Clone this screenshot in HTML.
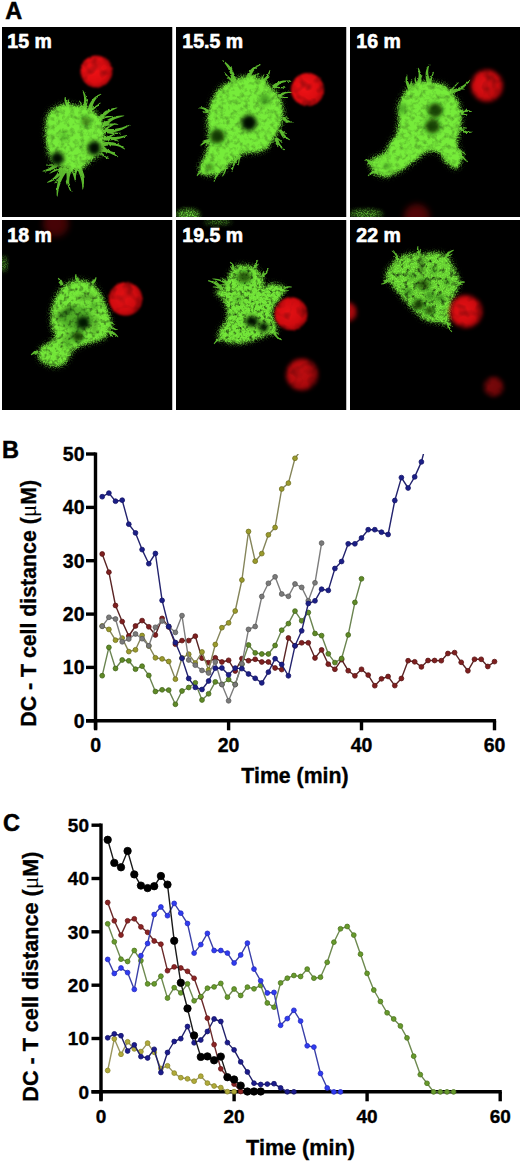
<!DOCTYPE html>
<html><head><meta charset="utf-8"><style>
html,body{margin:0;padding:0;background:#fff;}
body{width:520px;height:1162px;overflow:hidden;}
svg{display:block;font-family:"Liberation Sans", sans-serif;}
</style></head><body>
<svg width="520" height="1162" viewBox="0 0 520 1162">
<rect width="520" height="1162" fill="#fff"/>
<defs><filter id="gf0" x="-30%" y="-30%" width="160%" height="160%" color-interpolation-filters="sRGB">
 <feTurbulence type="fractalNoise" baseFrequency="0.45" numOctaves="2" seed="4" result="t"/>
 <feDisplacementMap in="SourceGraphic" in2="t" scale="5" xChannelSelector="R" yChannelSelector="G" result="d"/>
 <feGaussianBlur in="d" stdDeviation="0.9" result="b"/>
 <feTurbulence type="fractalNoise" baseFrequency="0.2" numOctaves="3" seed="9" result="n0"/>
 <feGaussianBlur in="n0" stdDeviation="0.7" result="n"/>
 <feColorMatrix in="n" type="matrix" values="0.65 0 0 0 0.63  0.65 0 0 0 0.63  0.65 0 0 0 0.63  0 0 0 0 1" result="ng"/>
 <feComposite in="b" in2="ng" operator="arithmetic" k1="1" k2="0" k3="0" k4="0"/>
</filter>
<filter id="gf1" x="-30%" y="-30%" width="160%" height="160%" color-interpolation-filters="sRGB">
 <feTurbulence type="fractalNoise" baseFrequency="0.45" numOctaves="2" seed="5" result="t"/>
 <feDisplacementMap in="SourceGraphic" in2="t" scale="5" xChannelSelector="R" yChannelSelector="G" result="d"/>
 <feGaussianBlur in="d" stdDeviation="0.9" result="b"/>
 <feTurbulence type="fractalNoise" baseFrequency="0.2" numOctaves="3" seed="10" result="n0"/>
 <feGaussianBlur in="n0" stdDeviation="0.7" result="n"/>
 <feColorMatrix in="n" type="matrix" values="0.65 0 0 0 0.63  0.65 0 0 0 0.63  0.65 0 0 0 0.63  0 0 0 0 1" result="ng"/>
 <feComposite in="b" in2="ng" operator="arithmetic" k1="1" k2="0" k3="0" k4="0"/>
</filter>
<filter id="gf2" x="-30%" y="-30%" width="160%" height="160%" color-interpolation-filters="sRGB">
 <feTurbulence type="fractalNoise" baseFrequency="0.45" numOctaves="2" seed="6" result="t"/>
 <feDisplacementMap in="SourceGraphic" in2="t" scale="5" xChannelSelector="R" yChannelSelector="G" result="d"/>
 <feGaussianBlur in="d" stdDeviation="0.9" result="b"/>
 <feTurbulence type="fractalNoise" baseFrequency="0.2" numOctaves="3" seed="11" result="n0"/>
 <feGaussianBlur in="n0" stdDeviation="0.7" result="n"/>
 <feColorMatrix in="n" type="matrix" values="0.65 0 0 0 0.63  0.65 0 0 0 0.63  0.65 0 0 0 0.63  0 0 0 0 1" result="ng"/>
 <feComposite in="b" in2="ng" operator="arithmetic" k1="1" k2="0" k3="0" k4="0"/>
</filter>
<filter id="gf3" x="-30%" y="-30%" width="160%" height="160%" color-interpolation-filters="sRGB">
 <feTurbulence type="fractalNoise" baseFrequency="0.45" numOctaves="2" seed="7" result="t"/>
 <feDisplacementMap in="SourceGraphic" in2="t" scale="7" xChannelSelector="R" yChannelSelector="G" result="d"/>
 <feGaussianBlur in="d" stdDeviation="0.9" result="b"/>
 <feTurbulence type="fractalNoise" baseFrequency="0.25" numOctaves="3" seed="12" result="n0"/>
 <feGaussianBlur in="n0" stdDeviation="0.5" result="n"/>
 <feColorMatrix in="n" type="matrix" values="1.4 0 0 0 0.26  1.4 0 0 0 0.26  1.4 0 0 0 0.26  0 0 0 0 1" result="ng"/>
 <feComposite in="b" in2="ng" operator="arithmetic" k1="1" k2="0" k3="0" k4="0"/>
</filter>
<filter id="gf4" x="-30%" y="-30%" width="160%" height="160%" color-interpolation-filters="sRGB">
 <feTurbulence type="fractalNoise" baseFrequency="0.5" numOctaves="2" seed="8" result="t"/>
 <feDisplacementMap in="SourceGraphic" in2="t" scale="8" xChannelSelector="R" yChannelSelector="G" result="d"/>
 <feGaussianBlur in="d" stdDeviation="0.8" result="b"/>
 <feTurbulence type="fractalNoise" baseFrequency="0.3" numOctaves="3" seed="13" result="n0"/>
 <feGaussianBlur in="n0" stdDeviation="0.4" result="n"/>
 <feColorMatrix in="n" type="matrix" values="2.0 0 0 0 -0.02  2.0 0 0 0 -0.02  2.0 0 0 0 -0.02  0 0 0 0 1" result="ng"/>
 <feComposite in="b" in2="ng" operator="arithmetic" k1="1" k2="0" k3="0" k4="0"/>
</filter>
<filter id="gf5" x="-30%" y="-30%" width="160%" height="160%" color-interpolation-filters="sRGB">
 <feTurbulence type="fractalNoise" baseFrequency="0.35" numOctaves="2" seed="9" result="t"/>
 <feDisplacementMap in="SourceGraphic" in2="t" scale="10" xChannelSelector="R" yChannelSelector="G" result="d"/>
 <feGaussianBlur in="d" stdDeviation="0.8" result="b"/>
 <feTurbulence type="fractalNoise" baseFrequency="0.22" numOctaves="3" seed="14" result="n0"/>
 <feGaussianBlur in="n0" stdDeviation="0.5" result="n"/>
 <feColorMatrix in="n" type="matrix" values="2.4 0 0 0 -0.18  2.4 0 0 0 -0.18  2.4 0 0 0 -0.18  0 0 0 0 1" result="ng"/>
 <feComposite in="b" in2="ng" operator="arithmetic" k1="1" k2="0" k3="0" k4="0"/>
</filter>
<filter id="hf" x="-30%" y="-30%" width="160%" height="160%" color-interpolation-filters="sRGB">
 <feTurbulence type="fractalNoise" baseFrequency="0.6" numOctaves="2" seed="7" result="t"/>
 <feDisplacementMap in="SourceGraphic" in2="t" scale="8" xChannelSelector="R" yChannelSelector="G" result="d"/>
 <feGaussianBlur in="d" stdDeviation="1.0"/>
</filter>
<filter id="sf" x="-30%" y="-30%" width="160%" height="160%" color-interpolation-filters="sRGB">
 <feTurbulence type="fractalNoise" baseFrequency="0.5" numOctaves="2" seed="12" result="t"/>
 <feDisplacementMap in="SourceGraphic" in2="t" scale="2.5" xChannelSelector="R" yChannelSelector="G" result="d"/>
 <feGaussianBlur in="d" stdDeviation="0.6"/>
</filter>
<filter id="spk" x="-30%" y="-30%" width="160%" height="160%" color-interpolation-filters="sRGB">
 <feGaussianBlur in="SourceGraphic" stdDeviation="2.5" result="b"/>
 <feTurbulence type="fractalNoise" baseFrequency="0.8" numOctaves="2" seed="3" result="n"/>
 <feColorMatrix in="n" type="matrix" values="0 0 0 0 0.47  0 0 0 0 0.92  0 0 0 0 0.26  0 0 0 5 -2.2" result="nz"/>
 <feComposite in="nz" in2="b" operator="in"/>
</filter>
<filter id="hb" x="-50%" y="-50%" width="200%" height="200%"><feGaussianBlur stdDeviation="1.9"/></filter>
<filter id="rb1" x="-30%" y="-30%" width="160%" height="160%" color-interpolation-filters="sRGB">
 <feTurbulence type="fractalNoise" baseFrequency="0.6" numOctaves="2" seed="21" result="t"/>
 <feDisplacementMap in="SourceGraphic" in2="t" scale="2.5" xChannelSelector="R" yChannelSelector="G" result="d"/>
 <feGaussianBlur in="d" stdDeviation="0.9" result="b"/>
 <feTurbulence type="fractalNoise" baseFrequency="0.12" numOctaves="2" seed="31" result="n0"/>
 <feGaussianBlur in="n0" stdDeviation="1" result="n"/>
 <feColorMatrix in="n" type="matrix" values="0.9 0 0 0 0.5  0.9 0 0 0 0.5  0.9 0 0 0 0.5  0 0 0 0 1" result="ng"/>
 <feComposite in="b" in2="ng" operator="arithmetic" k1="1" k2="0" k3="0" k4="0"/>
</filter>
<filter id="rb2" x="-30%" y="-30%" width="160%" height="160%" color-interpolation-filters="sRGB">
 <feGaussianBlur in="SourceGraphic" stdDeviation="2.0" result="b"/>
 <feTurbulence type="fractalNoise" baseFrequency="0.12" numOctaves="2" seed="33" result="n0"/>
 <feGaussianBlur in="n0" stdDeviation="1" result="n"/>
 <feColorMatrix in="n" type="matrix" values="0.9 0 0 0 0.5  0.9 0 0 0 0.5  0.9 0 0 0 0.5  0 0 0 0 1" result="ng"/>
 <feComposite in="b" in2="ng" operator="arithmetic" k1="1" k2="0" k3="0" k4="0"/>
</filter>
<filter id="rb3" x="-50%" y="-50%" width="200%" height="200%"><feGaussianBlur stdDeviation="3"/></filter>
<filter id="eb" x="-50%" y="-50%" width="200%" height="200%"><feGaussianBlur stdDeviation="2"/></filter>
<radialGradient id="rg" cx="0.42" cy="0.45" r="0.58"><stop offset="0" stop-color="#f01216"/><stop offset="0.7" stop-color="#dc0c10"/><stop offset="1" stop-color="#a8060a"/></radialGradient>
</defs>
<clipPath id="pc0"><rect x="2" y="27" width="170.5" height="190"/></clipPath>
<clipPath id="pc1"><rect x="176" y="27" width="170.5" height="190"/></clipPath>
<clipPath id="pc2"><rect x="350" y="27" width="170" height="190"/></clipPath>
<clipPath id="pc3"><rect x="2" y="220" width="170.5" height="190"/></clipPath>
<clipPath id="pc4"><rect x="176" y="220" width="170.5" height="190"/></clipPath>
<clipPath id="pc5"><rect x="350" y="220" width="170" height="190"/></clipPath>
<g clip-path="url(#pc0)">
<rect x="2" y="27" width="170.5" height="190" fill="#000"/>
<g filter="url(#hf)" opacity="0.35"><path d="M48.5 115.8 C50.1 111.6 53 110 56.1 108.2 C59.2 106.4 63.2 105.2 67 105 C70.8 104.9 75.3 106.6 78.9 107.4 C82.5 108.1 85.6 108 88.7 109.5 C91.8 110.9 95.1 113 97.4 115.9 C99.8 118.8 101.8 122.9 102.7 126.9 C103.6 130.8 103.1 135.5 102.6 139.8 C102.1 144.1 101.5 149.5 99.5 152.7 C97.5 155.9 93.6 156.8 90.7 159.2 C87.9 161.5 85.4 165.3 82.2 167 C79 168.6 75 169.4 71.4 169.2 C67.8 169 63.6 167.4 60.5 165.9 C57.4 164.4 54.8 163.3 52.8 160.4 C50.9 157.5 49.8 152.9 48.7 148.4 C47.7 143.9 46.6 138.7 46.6 133.3 C46.5 127.9 46.9 120 48.5 115.8Z" fill="#76ec3a" stroke="#76ec3a" stroke-width="3"/></g>
<g filter="url(#spk)"><path d="M48.5 115.8 C50.1 111.6 53 110 56.1 108.2 C59.2 106.4 63.2 105.2 67 105 C70.8 104.9 75.3 106.6 78.9 107.4 C82.5 108.1 85.6 108 88.7 109.5 C91.8 110.9 95.1 113 97.4 115.9 C99.8 118.8 101.8 122.9 102.7 126.9 C103.6 130.8 103.1 135.5 102.6 139.8 C102.1 144.1 101.5 149.5 99.5 152.7 C97.5 155.9 93.6 156.8 90.7 159.2 C87.9 161.5 85.4 165.3 82.2 167 C79 168.6 75 169.4 71.4 169.2 C67.8 169 63.6 167.4 60.5 165.9 C57.4 164.4 54.8 163.3 52.8 160.4 C50.9 157.5 49.8 152.9 48.7 148.4 C47.7 143.9 46.6 138.7 46.6 133.3 C46.5 127.9 46.9 120 48.5 115.8Z" fill="#76ec3a" stroke="#76ec3a" stroke-width="4"/></g>
<g filter="url(#sf)" opacity="0.85"><path d="M84.7 113 L85.6 110.6 L86.3 108.3 L86.7 105.9 L86.9 103.6 L86.8 101.2 L86.6 99 L86 96.7 L85.3 94.5 L84.3 92.4 L83 90.3 L82.4 90.7 L83.1 92.9 L83.6 95.1 L84 97.2 L84.1 99.2 L84 101.2 L83.7 103.2 L83.3 105.2 L82.6 107.1 L81.8 109.1 L80.7 111Z M83.7 112.7 L84.5 111.4 L85.1 110.1 L85.7 108.7 L86.2 107.4 L86.7 106 L87.1 104.6 L87.4 103.2 L87.6 101.8 L87.8 100.4 L87.8 98.9 L87.1 98.8 L86.8 100.2 L86.4 101.6 L86 102.9 L85.6 104.2 L85.1 105.4 L84.5 106.7 L83.9 107.9 L83.2 109 L82.4 110.2 L81.7 111.3Z M83.8 112 L83.8 110.7 L83.6 109.5 L83.4 108.2 L83.1 107 L82.7 105.8 L82.2 104.7 L81.7 103.6 L81 102.5 L80.3 101.5 L79.5 100.5 L78.9 100.9 L79.5 102 L80.1 103 L80.5 104.1 L80.9 105.2 L81.2 106.3 L81.4 107.4 L81.6 108.5 L81.6 109.6 L81.6 110.8 L81.6 112Z M92.2 110.3 L92.4 108.3 L92.7 106.4 L93.1 104.6 L93.8 102.9 L94.6 101.3 L95.6 99.8 L96.7 98.3 L98.1 96.9 L99.6 95.6 L101.4 94.3 L101 93.7 L99 94.5 L97.1 95.5 L95.3 96.7 L93.7 98.1 L92.3 99.7 L91 101.4 L89.9 103.2 L89 105.3 L88.3 107.4 L87.8 109.7Z M90.5 111.2 L91.7 110.5 L92.8 109.9 L94 109.2 L95.1 108.4 L96.1 107.6 L97.1 106.8 L98.1 105.9 L99 105 L99.9 104 L100.7 103 L100.1 102.5 L99.2 103.3 L98.2 104.1 L97.2 104.9 L96.2 105.6 L95.1 106.2 L94 106.8 L92.9 107.4 L91.8 107.9 L90.7 108.4 L89.5 108.8Z M91.1 110.1 L91.2 109.1 L91.3 108 L91.5 107 L91.7 106 L91.9 105 L92.2 104 L92.5 102.9 L92.8 101.9 L93.2 101 L93.6 99.9 L93 99.6 L92.3 100.5 L91.8 101.5 L91.3 102.5 L90.8 103.5 L90.4 104.5 L90 105.5 L89.6 106.6 L89.3 107.7 L89.1 108.8 L88.9 109.9Z M69.8 104.8 L69 104.2 L68.3 103.5 L67.7 102.9 L67.2 102.1 L66.8 101.4 L66.4 100.5 L66.1 99.7 L65.9 98.7 L65.8 97.7 L65.7 96.6 L65.1 96.4 L64.7 97.6 L64.5 98.7 L64.5 99.9 L64.6 101 L64.8 102.1 L65.1 103.2 L65.6 104.2 L66.2 105.3 L66.9 106.3 L67.8 107.2Z M69.7 105.7 L69.5 105.1 L69.3 104.5 L69.2 103.9 L69.1 103.3 L69 102.7 L69 102.1 L69 101.5 L69 100.8 L69.1 100.2 L69.2 99.5 L68.5 99.3 L68.2 100 L68 100.7 L67.8 101.3 L67.7 102 L67.6 102.7 L67.6 103.4 L67.6 104.1 L67.6 104.8 L67.7 105.6 L67.9 106.3Z M69.5 105.5 L69.1 105.1 L68.7 104.6 L68.4 104.2 L68 103.8 L67.6 103.4 L67.3 103 L66.9 102.6 L66.5 102.2 L66.1 101.8 L65.8 101.4 L65.2 101.8 L65.4 102.3 L65.7 102.8 L66 103.2 L66.3 103.7 L66.6 104.2 L66.9 104.7 L67.2 105.1 L67.5 105.6 L67.8 106.1 L68.1 106.5Z M100.8 121.3 L102 119.5 L103.3 117.8 L104.7 116.2 L106.2 114.7 L107.8 113.4 L109.5 112.1 L111.3 111 L113.2 109.9 L115.2 109 L117.4 108.1 L117.2 107.5 L114.9 107.8 L112.6 108.3 L110.4 109.1 L108.3 109.9 L106.2 111 L104.2 112.2 L102.3 113.6 L100.5 115.1 L98.8 116.8 L97.2 118.7Z M99.6 121.1 L100.8 120.3 L102.1 119.6 L103.3 119 L104.6 118.5 L105.9 118.1 L107.2 117.7 L108.6 117.4 L110 117.2 L111.4 117.1 L112.9 117 L112.9 116.3 L111.4 116.1 L109.9 116 L108.4 116 L106.9 116.1 L105.5 116.4 L104 116.7 L102.6 117.1 L101.2 117.6 L99.7 118.2 L98.4 118.9Z M100 120.5 L100.5 119.5 L101.1 118.4 L101.7 117.4 L102.3 116.4 L103 115.4 L103.7 114.5 L104.4 113.6 L105.2 112.7 L106 111.8 L106.9 110.9 L106.4 110.3 L105.4 111.1 L104.4 111.8 L103.5 112.7 L102.6 113.5 L101.7 114.4 L100.9 115.4 L100.1 116.3 L99.4 117.3 L98.7 118.4 L98 119.5Z M104.6 127.5 L106.2 125.8 L107.8 124.1 L109.5 122.7 L111.3 121.3 L113.2 120.1 L115.2 119.1 L117.3 118.2 L119.5 117.4 L121.8 116.7 L124.2 116.1 L124.2 115.5 L121.6 115.4 L119.1 115.7 L116.7 116.1 L114.3 116.8 L112 117.6 L109.7 118.6 L107.5 119.8 L105.4 121.2 L103.4 122.7 L101.4 124.5Z M103.4 127.2 L104.8 126.6 L106.3 126.1 L107.7 125.7 L109.1 125.4 L110.6 125.1 L112.1 125 L113.6 124.8 L115.1 124.8 L116.6 124.8 L118.2 124.8 L118.3 124.2 L116.7 123.8 L115.1 123.6 L113.6 123.4 L112 123.4 L110.4 123.4 L108.9 123.5 L107.3 123.7 L105.7 124 L104.1 124.4 L102.6 124.8Z M103.5 127 L104.7 126.3 L105.9 125.5 L106.9 124.7 L108 123.8 L108.9 122.9 L109.8 121.9 L110.7 120.8 L111.4 119.7 L112.2 118.6 L112.8 117.4 L112.2 117 L111.4 118.1 L110.5 119.1 L109.7 120 L108.8 120.9 L107.8 121.7 L106.9 122.5 L105.8 123.2 L104.8 123.8 L103.7 124.4 L102.5 125Z M103.9 133.2 L106.7 133.1 L109.5 132.9 L112.2 132.5 L114.9 132 L117.5 131.3 L120.1 130.4 L122.6 129.4 L125 128.2 L127.4 126.9 L129.7 125.3 L129.3 124.7 L126.8 125.7 L124.3 126.6 L121.9 127.4 L119.4 128 L116.9 128.5 L114.4 128.9 L111.8 129.1 L109.3 129.1 L106.7 129 L104.1 128.8Z M103.6 132.2 L105.3 132.7 L107 133.1 L108.8 133.5 L110.5 133.7 L112.2 133.9 L114 134 L115.7 134 L117.5 133.9 L119.2 133.7 L120.9 133.4 L120.9 132.7 L119.1 132.7 L117.4 132.7 L115.8 132.6 L114.1 132.4 L112.4 132.2 L110.8 131.8 L109.2 131.4 L107.6 131 L106 130.4 L104.4 129.8Z M104.8 131.8 L105.8 130.7 L106.8 129.7 L107.8 128.8 L108.9 127.9 L110.1 127.1 L111.3 126.4 L112.5 125.7 L113.8 125.1 L115.1 124.6 L116.5 124 L116.3 123.4 L114.8 123.7 L113.4 124.1 L112 124.5 L110.6 125.1 L109.3 125.8 L108 126.5 L106.7 127.3 L105.5 128.2 L104.3 129.2 L103.2 130.2Z M103.6 140.2 L106.1 140.4 L108.6 140.4 L111.1 140.3 L113.5 140.1 L115.8 139.8 L118.2 139.2 L120.5 138.6 L122.8 137.8 L125 136.9 L127.1 135.7 L126.9 135.1 L124.6 135.6 L122.3 136.1 L120 136.5 L117.8 136.8 L115.5 136.9 L113.3 137 L111.1 136.9 L108.8 136.6 L106.6 136.3 L104.4 135.8Z M104.2 139.2 L105.7 139 L107.1 138.9 L108.6 138.9 L110 139 L111.5 139.2 L112.9 139.5 L114.3 139.9 L115.7 140.4 L117 141.1 L118.4 141.8 L118.8 141.3 L117.5 140.2 L116.2 139.4 L114.8 138.6 L113.4 138 L111.9 137.5 L110.3 137.1 L108.8 136.8 L107.2 136.7 L105.5 136.7 L103.8 136.8Z M104.1 139.1 L105.5 138.9 L106.8 138.5 L108.1 138.1 L109.3 137.6 L110.5 137 L111.7 136.4 L112.8 135.7 L113.9 134.9 L114.9 134.1 L115.9 133.2 L115.4 132.6 L114.3 133.3 L113.3 134 L112.2 134.6 L111 135.1 L109.9 135.6 L108.7 136 L107.5 136.3 L106.3 136.6 L105.1 136.8 L103.9 136.9Z M101.7 147.1 L104 146.3 L106.4 145.7 L108.7 145.4 L111 145.3 L113.3 145.4 L115.6 145.7 L117.9 146.3 L120.2 147.1 L122.4 148.2 L124.8 149.5 L125.2 148.9 L123.1 147.1 L120.9 145.6 L118.6 144.3 L116.3 143.3 L113.8 142.6 L111.2 142.1 L108.6 141.9 L105.9 142 L103.1 142.3 L100.3 142.9Z M100 145.8 L101.3 147.1 L102.5 148.2 L103.9 149.2 L105.3 150.2 L106.7 151 L108.2 151.7 L109.7 152.2 L111.3 152.7 L113 153.1 L114.7 153.3 L114.8 152.6 L113.2 152.1 L111.7 151.6 L110.2 151 L108.9 150.3 L107.6 149.5 L106.3 148.6 L105.1 147.6 L104 146.6 L103 145.4 L102 144.2Z M101.4 146 L102.6 145.5 L103.9 145.1 L105.1 144.7 L106.4 144.3 L107.6 144.1 L108.9 143.9 L110.2 143.7 L111.5 143.6 L112.9 143.6 L114.2 143.7 L114.3 143 L113 142.7 L111.6 142.5 L110.2 142.4 L108.8 142.4 L107.4 142.5 L106.1 142.6 L104.7 142.8 L103.3 143.1 L101.9 143.5 L100.6 144Z M99 151.9 L101 151.9 L102.9 152 L104.9 152.2 L106.8 152.6 L108.7 153 L110.5 153.6 L112.4 154.4 L114.2 155.2 L116 156.2 L117.8 157.3 L118.2 156.7 L116.7 155.2 L115 153.9 L113.2 152.7 L111.4 151.6 L109.5 150.7 L107.6 149.9 L105.5 149.2 L103.4 148.7 L101.3 148.3 L99 148.1Z M98 150.5 L98.9 151.8 L99.7 152.9 L100.7 153.9 L101.7 154.9 L102.7 155.8 L103.9 156.6 L105 157.3 L106.3 157.9 L107.6 158.4 L108.9 158.8 L109.2 158.2 L107.9 157.6 L106.8 156.9 L105.7 156.2 L104.7 155.4 L103.7 154.6 L102.9 153.7 L102 152.7 L101.3 151.7 L100.6 150.6 L100 149.5Z M98.9 151 L100 151 L101.2 151.1 L102.3 151.1 L103.4 151.1 L104.5 151.1 L105.6 151.1 L106.8 151.1 L107.9 151.1 L109 151 L110.1 150.9 L110.1 150.2 L109 150.1 L107.9 150 L106.8 149.9 L105.7 149.8 L104.6 149.7 L103.5 149.5 L102.4 149.4 L101.3 149.3 L100.2 149.1 L99.1 149Z M75.9 167.2 L77.1 169.2 L78.2 171.3 L79.1 173.4 L79.9 175.5 L80.6 177.7 L81.2 179.9 L81.7 182.2 L82 184.6 L82.2 187 L82.4 189.5 L83 189.5 L83.6 187.1 L83.9 184.6 L84 182.1 L84 179.6 L83.8 177.1 L83.4 174.6 L82.9 172.1 L82.2 169.7 L81.3 167.2 L80.3 164.8Z M76.9 165.3 L76.2 166.9 L75.6 168.5 L75.1 170.1 L74.7 171.7 L74.5 173.3 L74.4 174.9 L74.4 176.6 L74.6 178.2 L74.9 179.8 L75.3 181.4 L76 181.3 L75.9 179.7 L75.9 178.1 L75.9 176.6 L76.1 175.1 L76.4 173.6 L76.8 172.2 L77.2 170.8 L77.8 169.4 L78.5 168 L79.3 166.7Z M77.2 166.8 L78.1 167.8 L78.9 168.7 L79.7 169.7 L80.5 170.8 L81.2 171.8 L81.8 172.9 L82.4 174.1 L83 175.2 L83.5 176.5 L84 177.7 L84.7 177.5 L84.4 176.2 L84.1 174.8 L83.7 173.5 L83.2 172.3 L82.7 171 L82.1 169.8 L81.4 168.6 L80.7 167.4 L79.9 166.3 L79 165.2Z M64.5 166.5 L62.7 169.3 L61.2 172.1 L59.9 175 L58.8 178 L57.9 181 L57.3 184 L56.8 187.1 L56.6 190.2 L56.6 193.3 L57 196.5 L57.6 196.5 L58 193.4 L58.5 190.4 L59.1 187.5 L60 184.7 L60.9 181.9 L62.1 179.3 L63.4 176.7 L65 174.3 L66.6 171.9 L68.5 169.5Z M65.3 167.3 L64.4 168.9 L63.4 170.6 L62.3 172.2 L61.3 173.8 L60.2 175.4 L59.1 177 L57.9 178.5 L56.7 180.1 L55.5 181.6 L54.3 183.1 L54.8 183.6 L56.3 182.3 L57.7 180.9 L59.1 179.5 L60.4 178.1 L61.7 176.6 L63 175.1 L64.2 173.5 L65.4 172 L66.6 170.4 L67.7 168.7Z M65.3 168.3 L65.7 169.9 L66.1 171.5 L66.3 173 L66.5 174.6 L66.6 176.2 L66.6 177.8 L66.6 179.5 L66.5 181.1 L66.2 182.7 L66 184.4 L66.6 184.6 L67.2 182.9 L67.6 181.3 L68 179.6 L68.2 177.9 L68.4 176.3 L68.4 174.6 L68.4 172.9 L68.3 171.1 L68 169.4 L67.7 167.7Z M55.8 162.4 L54.7 163.6 L53.6 164.7 L52.4 165.7 L51.2 166.7 L49.9 167.6 L48.5 168.4 L47.1 169.1 L45.6 169.7 L44.1 170.3 L42.5 170.9 L42.5 171.5 L44.3 171.6 L46.1 171.4 L47.8 171.1 L49.5 170.7 L51.1 170.1 L52.7 169.4 L54.3 168.7 L55.9 167.7 L57.4 166.7 L58.8 165.6Z M57 162.8 L56 163.1 L55 163.4 L54 163.6 L53 163.8 L51.9 164 L50.9 164.2 L49.8 164.4 L48.8 164.5 L47.7 164.6 L46.7 164.7 L46.6 165.4 L47.7 165.6 L48.8 165.7 L49.9 165.8 L51 165.8 L52.1 165.8 L53.2 165.7 L54.3 165.6 L55.4 165.5 L56.5 165.4 L57.6 165.2Z M56.8 163 L55.9 163.6 L55.2 164.1 L54.4 164.8 L53.7 165.4 L53.1 166.1 L52.4 166.8 L51.9 167.6 L51.3 168.3 L50.8 169.1 L50.4 170 L51 170.4 L51.6 169.7 L52.2 169 L52.8 168.4 L53.5 167.8 L54.1 167.3 L54.8 166.7 L55.6 166.2 L56.3 165.8 L57.1 165.4 L57.8 165Z M59.8 167.2 L59.2 169.2 L58.3 171 L57.4 172.8 L56.4 174.4 L55.2 175.9 L53.8 177.4 L52.3 178.7 L50.7 179.9 L48.9 181.1 L47 182.2 L47.2 182.8 L49.4 182.2 L51.5 181.4 L53.5 180.4 L55.4 179.3 L57.1 177.9 L58.8 176.4 L60.3 174.8 L61.6 172.9 L62.9 170.9 L64 168.8Z M61.6 166.8 L60.3 167.2 L58.9 167.7 L57.7 168.3 L56.4 168.9 L55.2 169.5 L54 170.1 L52.8 170.8 L51.6 171.6 L50.5 172.4 L49.4 173.3 L49.8 173.8 L51 173.2 L52.2 172.6 L53.4 172.1 L54.7 171.5 L55.9 171.1 L57.1 170.6 L58.4 170.2 L59.7 169.8 L60.9 169.5 L62.2 169.2Z M60.8 167.8 L60.6 168.9 L60.4 170 L60.1 171.1 L59.8 172.1 L59.4 173.1 L58.9 174.1 L58.3 175 L57.7 176 L57 176.9 L56.2 177.8 L56.7 178.3 L57.7 177.5 L58.6 176.7 L59.4 175.8 L60.1 174.9 L60.8 173.9 L61.4 172.8 L61.9 171.7 L62.3 170.6 L62.7 169.4 L63 168.2Z M69.5 167.1 L68.4 169.7 L67.6 172.3 L67 174.8 L66.8 177.4 L66.8 179.9 L67.1 182.4 L67.6 184.9 L68.4 187.3 L69.5 189.7 L70.9 192 L71.5 191.6 L70.6 189.2 L69.9 186.8 L69.4 184.5 L69.2 182.2 L69.3 179.9 L69.5 177.7 L70 175.5 L70.7 173.3 L71.7 171.1 L72.9 168.9Z M70.2 167.6 L69.7 169.1 L69.3 170.6 L68.8 172.1 L68.3 173.5 L67.9 175 L67.4 176.5 L66.9 178 L66.5 179.4 L66 180.9 L65.6 182.4 L66.2 182.7 L66.9 181.3 L67.5 179.8 L68.1 178.4 L68.7 177 L69.3 175.6 L69.9 174.1 L70.5 172.7 L71.1 171.2 L71.7 169.8 L72.2 168.4Z M70.3 168.4 L70.9 169.6 L71.4 170.7 L72 171.9 L72.4 173.1 L72.9 174.3 L73.3 175.5 L73.7 176.8 L74.1 178 L74.4 179.3 L74.7 180.6 L75.4 180.5 L75.3 179.1 L75.1 177.8 L74.9 176.5 L74.6 175.2 L74.3 173.9 L73.9 172.6 L73.5 171.3 L73.1 170.1 L72.6 168.8 L72.1 167.6Z" fill="#6cd836"/></g>
<g filter="url(#gf0)" opacity="1.0"><path d="M48.5 115.8 C50.1 111.6 53 110 56.1 108.2 C59.2 106.4 63.2 105.2 67 105 C70.8 104.9 75.3 106.6 78.9 107.4 C82.5 108.1 85.6 108 88.7 109.5 C91.8 110.9 95.1 113 97.4 115.9 C99.8 118.8 101.8 122.9 102.7 126.9 C103.6 130.8 103.1 135.5 102.6 139.8 C102.1 144.1 101.5 149.5 99.5 152.7 C97.5 155.9 93.6 156.8 90.7 159.2 C87.9 161.5 85.4 165.3 82.2 167 C79 168.6 75 169.4 71.4 169.2 C67.8 169 63.6 167.4 60.5 165.9 C57.4 164.4 54.8 163.3 52.8 160.4 C50.9 157.5 49.8 152.9 48.7 148.4 C47.7 143.9 46.6 138.7 46.6 133.3 C46.5 127.9 46.9 120 48.5 115.8Z" fill="#76ec3a"/></g>
<g filter="url(#hb)">
<ellipse cx="57.3" cy="158.5" rx="6.6" ry="6.6" fill="#020a01" opacity="1.0"/>
<ellipse cx="94.2" cy="148.1" rx="6.6" ry="7.2" fill="#020a01" opacity="1.0"/>
<ellipse cx="86.2" cy="121.5" rx="5" ry="5" fill="#0c3006" opacity="0.55"/>
<ellipse cx="64" cy="137" rx="4.4" ry="4.4" fill="#0c3006" opacity="0.25"/>
</g>
<circle cx="96.4" cy="71.4" r="16" fill="url(#rg)" opacity="1.0" filter="url(#rb1)"/>
</g>
<g clip-path="url(#pc1)">
<rect x="176" y="27" width="170.5" height="190" fill="#000"/>
<ellipse cx="188" cy="215" rx="12" ry="6" fill="#76ec3a" opacity="0.425" filter="url(#eb)"/>
<g filter="url(#spk)" opacity="0.85"><ellipse cx="188" cy="215" rx="10.8" ry="5.4" fill="#76ec3a"/></g>
<g filter="url(#hf)" opacity="0.35"><path d="M211.4 104.9 C213.2 100.2 215.9 94.3 219.3 90.5 C222.6 86.8 226.6 84.6 231.4 82.4 C236.1 80.1 242.5 77.5 247.6 77.1 C252.7 76.7 258.1 78.2 261.8 80.1 C265.6 82 267.3 85.6 270 88.3 C272.7 91 276 92.7 278 96.4 C280 100.2 281.8 106 282 110.7 C282.3 115.5 281.4 120.1 279.7 124.9 C278.1 129.7 274.7 135.3 272.1 139.3 C269.6 143.3 267.5 146.7 264.5 148.7 C261.5 150.7 258.1 150.4 254 151.3 C249.9 152.2 244.1 152 240 154 C235.9 156 232.8 160.1 229.3 163.1 C225.9 166 222.9 169.9 219.1 171.7 C215.4 173.5 209.8 174.6 206.7 174 C203.7 173.3 200.5 171.2 200.6 167.8 C200.7 164.3 205.7 158 207.2 153.1 C208.7 148.3 209.3 144.6 209.6 138.9 C209.8 133.2 208.2 124.6 208.5 119 C208.8 113.3 209.6 109.7 211.4 104.9Z" fill="#76ec3a" stroke="#76ec3a" stroke-width="3"/></g>
<g filter="url(#spk)"><path d="M211.4 104.9 C213.2 100.2 215.9 94.3 219.3 90.5 C222.6 86.8 226.6 84.6 231.4 82.4 C236.1 80.1 242.5 77.5 247.6 77.1 C252.7 76.7 258.1 78.2 261.8 80.1 C265.6 82 267.3 85.6 270 88.3 C272.7 91 276 92.7 278 96.4 C280 100.2 281.8 106 282 110.7 C282.3 115.5 281.4 120.1 279.7 124.9 C278.1 129.7 274.7 135.3 272.1 139.3 C269.6 143.3 267.5 146.7 264.5 148.7 C261.5 150.7 258.1 150.4 254 151.3 C249.9 152.2 244.1 152 240 154 C235.9 156 232.8 160.1 229.3 163.1 C225.9 166 222.9 169.9 219.1 171.7 C215.4 173.5 209.8 174.6 206.7 174 C203.7 173.3 200.5 171.2 200.6 167.8 C200.7 164.3 205.7 158 207.2 153.1 C208.7 148.3 209.3 144.6 209.6 138.9 C209.8 133.2 208.2 124.6 208.5 119 C208.8 113.3 209.6 109.7 211.4 104.9Z" fill="#76ec3a" stroke="#76ec3a" stroke-width="4"/></g>
<g filter="url(#sf)" opacity="0.85"><path d="M236.5 81.8 L236 79 L235.2 76.4 L234.3 73.9 L233.2 71.5 L231.9 69.2 L230.4 67.1 L228.8 65.1 L226.9 63.3 L224.9 61.5 L222.7 60 L222.3 60.6 L224 62.5 L225.5 64.5 L226.9 66.5 L228.1 68.6 L229.1 70.7 L229.9 72.9 L230.5 75.1 L231 77.4 L231.3 79.8 L231.5 82.2Z M235.3 81.5 L234.7 80 L234.1 78.6 L233.6 77.1 L233.2 75.6 L232.8 74.1 L232.6 72.6 L232.4 71 L232.2 69.5 L232.2 67.9 L232.2 66.2 L231.5 66.1 L231.1 67.8 L231 69.4 L230.9 71.1 L230.9 72.7 L230.9 74.4 L231.1 76 L231.4 77.6 L231.7 79.3 L232.2 80.9 L232.7 82.5Z M234.7 81 L233.6 80.3 L232.5 79.5 L231.4 78.7 L230.4 77.9 L229.4 77.1 L228.4 76.2 L227.4 75.3 L226.5 74.3 L225.6 73.3 L224.7 72.3 L224.1 72.7 L224.8 73.9 L225.6 75 L226.4 76.2 L227.2 77.3 L228.1 78.3 L229.1 79.3 L230.1 80.3 L231.1 81.3 L232.2 82.2 L233.3 83Z M250.5 80.4 L250.7 78.4 L251.1 76.5 L251.7 74.7 L252.4 73 L253.3 71.5 L254.4 70 L255.7 68.6 L257.1 67.3 L258.8 66.1 L260.7 64.9 L260.5 64.3 L258.2 64.9 L256.2 65.7 L254.2 66.7 L252.4 68 L250.8 69.5 L249.4 71.1 L248.1 73 L247.1 75 L246.2 77.2 L245.5 79.6Z M248.8 81.1 L249.8 80.3 L250.8 79.5 L251.8 78.7 L252.8 77.9 L253.9 77.2 L254.9 76.5 L256 75.8 L257.1 75.1 L258.2 74.4 L259.3 73.7 L259 73.1 L257.7 73.5 L256.5 74 L255.3 74.5 L254.1 75 L252.9 75.6 L251.7 76.2 L250.6 76.8 L249.4 77.5 L248.3 78.2 L247.2 78.9Z M249.2 80.4 L249.5 79.3 L249.7 78.3 L250 77.3 L250.4 76.2 L250.7 75.2 L251 74.1 L251.4 73.1 L251.7 72.1 L252.1 71.1 L252.4 70 L251.8 69.7 L251.2 70.6 L250.6 71.6 L250.1 72.6 L249.6 73.5 L249.1 74.5 L248.6 75.5 L248.1 76.5 L247.7 77.6 L247.2 78.6 L246.8 79.6Z M262.9 83.3 L264.2 82.2 L265.3 81.1 L266.3 79.9 L267.2 78.6 L268 77.3 L268.7 76 L269.3 74.6 L269.8 73.1 L270.1 71.6 L270.3 70.1 L269.7 69.9 L269.1 71.3 L268.5 72.6 L267.8 73.9 L267 75 L266.2 76.2 L265.3 77.2 L264.4 78.2 L263.4 79.1 L262.2 79.9 L261.1 80.7Z M262.5 82.8 L263.3 82.2 L264 81.7 L264.8 81.1 L265.5 80.5 L266.3 79.9 L267 79.3 L267.7 78.7 L268.4 78 L269.1 77.4 L269.8 76.7 L269.3 76.2 L268.6 76.7 L267.8 77.2 L267 77.8 L266.2 78.3 L265.5 78.8 L264.7 79.3 L263.9 79.8 L263.1 80.3 L262.3 80.7 L261.5 81.2Z M262.9 81.9 L262.8 81.1 L262.8 80.4 L262.8 79.6 L262.9 78.9 L263 78.2 L263.2 77.4 L263.4 76.7 L263.8 76 L264.1 75.3 L264.5 74.6 L264 74.2 L263.4 74.8 L262.9 75.5 L262.5 76.3 L262.1 77 L261.8 77.8 L261.5 78.6 L261.3 79.4 L261.2 80.3 L261.1 81.2 L261.1 82.1Z M274.1 88.2 L275.5 86.8 L277 85.6 L278.5 84.6 L280.1 83.7 L281.7 83 L283.4 82.4 L285.2 82 L287.1 81.8 L289.1 81.7 L291.1 81.7 L291.3 81.1 L289.2 80.6 L287.1 80.4 L285.1 80.4 L283.1 80.6 L281.1 80.9 L279.2 81.5 L277.3 82.3 L275.4 83.3 L273.6 84.5 L271.9 85.8Z M272.9 87.9 L274.1 88.1 L275.4 88.2 L276.6 88.2 L277.9 88.3 L279.1 88.3 L280.4 88.3 L281.6 88.3 L282.9 88.2 L284.1 88.1 L285.4 88 L285.3 87.3 L284.1 87.2 L282.9 87.2 L281.6 87.1 L280.4 87 L279.2 86.9 L278 86.8 L276.8 86.7 L275.6 86.5 L274.3 86.3 L273.1 86.1Z M273.2 87.8 L274.3 87.5 L275.4 87.1 L276.4 86.6 L277.3 86 L278.2 85.4 L279.1 84.7 L279.9 83.9 L280.6 83.1 L281.3 82.2 L281.9 81.3 L281.4 80.9 L280.6 81.7 L279.9 82.4 L279.1 83.1 L278.3 83.7 L277.5 84.3 L276.6 84.8 L275.7 85.2 L274.8 85.6 L273.8 85.9 L272.8 86.2Z M279.8 97 L280.9 96 L282.1 95.2 L283.3 94.6 L284.5 94 L285.8 93.6 L287.1 93.3 L288.5 93.1 L289.9 93.1 L291.4 93.1 L292.9 93.3 L293.1 92.7 L291.5 92.2 L290 91.8 L288.5 91.7 L286.9 91.7 L285.4 91.8 L283.9 92.2 L282.5 92.6 L281 93.3 L279.6 94.1 L278.2 95Z M278.6 96.7 L279.6 97.1 L280.5 97.4 L281.5 97.7 L282.4 97.9 L283.4 98 L284.4 98.1 L285.4 98.1 L286.3 98 L287.3 97.9 L288.3 97.6 L288.2 96.9 L287.2 97 L286.3 97.1 L285.4 97 L284.5 97 L283.6 96.8 L282.7 96.6 L281.9 96.4 L281 96.1 L280.2 95.7 L279.4 95.3Z M279.1 96.7 L280 96.5 L280.8 96.3 L281.6 96 L282.3 95.6 L283.1 95.2 L283.7 94.7 L284.4 94.2 L285 93.7 L285.6 93 L286.1 92.4 L285.6 91.9 L285 92.5 L284.4 93 L283.8 93.4 L283.2 93.8 L282.5 94.2 L281.8 94.5 L281.1 94.8 L280.4 95 L279.6 95.1 L278.9 95.3Z M281.9 119.1 L282.9 119.9 L283.9 120.6 L285 121.2 L286.1 121.7 L287.2 122 L288.3 122.3 L289.5 122.5 L290.6 122.6 L291.8 122.5 L293 122.3 L293 121.7 L291.9 121.4 L290.8 121.2 L289.8 120.9 L288.9 120.5 L288 120.1 L287.1 119.6 L286.3 119 L285.5 118.4 L284.8 117.7 L284.1 116.9Z M282.2 118.5 L282.6 119.1 L283.1 119.7 L283.7 120.3 L284.2 120.8 L284.8 121.3 L285.4 121.7 L286 122.1 L286.7 122.4 L287.4 122.7 L288.1 123 L288.4 122.4 L287.8 122 L287.2 121.6 L286.7 121.1 L286.2 120.7 L285.7 120.2 L285.3 119.7 L284.9 119.2 L284.5 118.7 L284.1 118.1 L283.8 117.5Z M283.1 118.9 L283.7 118.8 L284.2 118.7 L284.8 118.6 L285.4 118.6 L285.9 118.6 L286.5 118.6 L287.1 118.6 L287.6 118.7 L288.2 118.7 L288.8 118.8 L289 118.1 L288.4 117.9 L287.8 117.7 L287.2 117.5 L286.6 117.4 L286 117.3 L285.4 117.2 L284.8 117.2 L284.2 117.1 L283.5 117.1 L282.9 117.1Z M278.6 130.8 L279.5 132 L280.4 133.3 L281.4 134.4 L282.5 135.5 L283.6 136.4 L284.7 137.4 L285.9 138.2 L287.2 139 L288.5 139.7 L289.8 140.3 L290.2 139.7 L289 138.8 L288 137.9 L286.9 136.9 L286 136 L285.1 134.9 L284.2 133.9 L283.4 132.8 L282.7 131.6 L282 130.5 L281.4 129.2Z M279.1 130.2 L279.4 131.1 L279.7 132.1 L280.1 132.9 L280.5 133.8 L280.9 134.7 L281.4 135.5 L281.9 136.3 L282.4 137.1 L283 137.8 L283.6 138.5 L284.2 138.1 L283.7 137.3 L283.3 136.5 L282.9 135.7 L282.5 134.9 L282.2 134.1 L281.8 133.2 L281.6 132.4 L281.3 131.5 L281.1 130.7 L280.9 129.8Z M279.4 130.7 L280.1 131.2 L280.8 131.6 L281.5 132.1 L282.2 132.4 L282.9 132.8 L283.7 133.1 L284.4 133.4 L285.2 133.6 L286 133.8 L286.8 134 L287 133.3 L286.2 133 L285.5 132.7 L284.8 132.4 L284.2 132 L283.5 131.6 L282.9 131.2 L282.3 130.8 L281.7 130.4 L281.1 129.9 L280.6 129.3Z M274.5 138.5 L275.1 139.9 L275.9 141.3 L276.6 142.6 L277.5 143.9 L278.4 145.1 L279.3 146.2 L280.3 147.3 L281.4 148.4 L282.5 149.4 L283.8 150.3 L284.2 149.7 L283.3 148.6 L282.4 147.5 L281.6 146.3 L280.8 145.1 L280.1 143.9 L279.5 142.7 L278.9 141.4 L278.4 140.1 L277.9 138.8 L277.5 137.5Z M275.1 137.9 L275 138.9 L275.1 140 L275.2 141 L275.4 142 L275.6 142.9 L275.9 143.8 L276.3 144.8 L276.8 145.6 L277.3 146.5 L277.9 147.3 L278.5 146.9 L278.1 146.1 L277.7 145.2 L277.4 144.3 L277.2 143.5 L277 142.6 L276.8 141.7 L276.8 140.8 L276.8 139.9 L276.8 139 L276.9 138.1Z M275.7 138.8 L276.4 139.1 L277.1 139.4 L277.8 139.7 L278.5 140.1 L279.1 140.5 L279.7 141 L280.3 141.5 L280.8 142 L281.3 142.6 L281.9 143.2 L282.4 142.8 L282 142.1 L281.6 141.4 L281 140.7 L280.5 140.1 L279.9 139.5 L279.3 139 L278.6 138.4 L277.9 138 L277.1 137.6 L276.3 137.2Z M225 164.4 L223.2 165.7 L221.5 167.1 L219.9 168.6 L218.5 170.3 L217.3 172 L216.2 173.8 L215.3 175.7 L214.6 177.7 L214 179.8 L213.7 181.9 L214.3 182.1 L215.2 180.1 L216 178.3 L217 176.6 L218.1 175 L219.3 173.5 L220.6 172.1 L222 170.8 L223.5 169.7 L225.2 168.6 L227 167.6Z M225.3 165.1 L224.3 166 L223.4 166.8 L222.4 167.6 L221.4 168.4 L220.3 169.2 L219.3 169.9 L218.2 170.7 L217.1 171.4 L216 172.1 L214.9 172.8 L215.3 173.4 L216.5 172.9 L217.7 172.4 L218.9 171.8 L220 171.1 L221.2 170.5 L222.3 169.8 L223.4 169.1 L224.5 168.4 L225.6 167.6 L226.7 166.9Z M225 165.9 L225 167 L224.8 168.1 L224.7 169.1 L224.5 170.2 L224.2 171.2 L223.9 172.2 L223.5 173.2 L223 174.2 L222.5 175.2 L222 176.2 L222.6 176.6 L223.3 175.7 L224 174.7 L224.6 173.7 L225.1 172.7 L225.6 171.7 L226 170.6 L226.3 169.5 L226.6 168.4 L226.8 167.2 L227 166.1Z M205.9 168.1 L204.5 168.4 L203.2 168.8 L202 169.3 L200.9 169.9 L200 170.7 L199.1 171.5 L198.3 172.5 L197.6 173.5 L197.1 174.6 L196.7 175.8 L197.3 176.2 L198.1 175.2 L198.9 174.4 L199.7 173.8 L200.5 173.2 L201.3 172.7 L202.2 172.4 L203.1 172.1 L204.1 172 L205.1 171.9 L206.1 171.9Z M205.8 168.9 L205.1 169.1 L204.4 169.3 L203.7 169.6 L203.1 169.8 L202.4 170 L201.7 170.2 L201 170.5 L200.4 170.7 L199.7 171 L199.1 171.3 L199.3 172 L200 171.9 L200.7 171.8 L201.4 171.7 L202.1 171.6 L202.8 171.5 L203.4 171.4 L204.1 171.3 L204.8 171.2 L205.5 171.2 L206.2 171.1Z M205.1 169.5 L204.9 170 L204.6 170.5 L204.3 171 L204 171.5 L203.7 172 L203.4 172.5 L203.1 172.9 L202.7 173.4 L202.4 173.9 L202 174.4 L202.5 174.9 L203 174.5 L203.5 174.2 L204 173.8 L204.4 173.3 L204.9 172.9 L205.3 172.5 L205.7 172 L206.1 171.5 L206.5 171 L206.9 170.5Z M238.9 153.9 L237.5 155.5 L236.3 157.1 L235.3 158.8 L234.3 160.6 L233.6 162.3 L232.9 164.2 L232.4 166.1 L232 168 L231.7 170 L231.7 172 L232.3 172 L232.8 170.1 L233.3 168.3 L233.9 166.6 L234.7 164.9 L235.5 163.3 L236.4 161.7 L237.4 160.2 L238.6 158.8 L239.8 157.4 L241.1 156.1Z M239.5 154.2 L238.4 154.9 L237.4 155.7 L236.5 156.5 L235.5 157.4 L234.7 158.3 L233.8 159.2 L233.1 160.2 L232.3 161.2 L231.6 162.3 L231 163.4 L231.6 163.8 L232.4 162.8 L233.1 161.9 L233.9 161 L234.8 160.1 L235.6 159.3 L236.5 158.5 L237.5 157.8 L238.4 157.1 L239.5 156.4 L240.5 155.8Z M239.2 154.8 L239 155.8 L238.8 156.9 L238.6 157.9 L238.5 158.9 L238.4 160 L238.3 161 L238.2 162.1 L238.2 163.1 L238.2 164.2 L238.2 165.2 L238.9 165.2 L239 164.2 L239.2 163.2 L239.3 162.2 L239.5 161.2 L239.7 160.2 L239.9 159.2 L240.1 158.2 L240.3 157.2 L240.6 156.2 L240.8 155.2Z M209.3 111.1 L208.4 110.1 L207.5 109.3 L206.6 108.7 L205.6 108.1 L204.5 107.7 L203.5 107.4 L202.4 107.3 L201.2 107.2 L200.1 107.4 L199 107.7 L199 108.3 L200.1 108.5 L201.1 108.6 L202.1 108.9 L202.9 109.2 L203.7 109.6 L204.4 110.1 L205 110.7 L205.6 111.3 L206.2 112.1 L206.7 112.9Z M208.5 111.2 L207.9 110.9 L207.4 110.6 L206.9 110.3 L206.4 110 L205.9 109.6 L205.4 109.2 L205 108.8 L204.5 108.3 L204.1 107.9 L203.7 107.4 L203.1 107.7 L203.4 108.4 L203.7 108.9 L204.1 109.5 L204.5 110.1 L204.9 110.6 L205.4 111.1 L205.9 111.6 L206.4 112 L207 112.4 L207.5 112.8Z M207.8 111.2 L207.3 111.3 L206.8 111.4 L206.3 111.5 L205.8 111.5 L205.3 111.5 L204.8 111.5 L204.3 111.4 L203.8 111.3 L203.3 111.2 L202.8 111 L202.5 111.7 L203 112 L203.5 112.3 L204 112.5 L204.6 112.7 L205.2 112.8 L205.8 112.9 L206.4 113 L207 113 L207.6 112.9 L208.2 112.8Z M209.5 138.5 L208.4 139 L207.2 139.5 L206.1 140.1 L205.1 140.8 L204.1 141.5 L203.1 142.2 L202.2 143 L201.3 143.9 L200.5 144.8 L199.8 145.8 L200.2 146.2 L201.2 145.6 L202.2 144.9 L203.2 144.3 L204.2 143.8 L205.2 143.3 L206.2 142.8 L207.2 142.4 L208.3 142.1 L209.4 141.8 L210.5 141.5Z M210 139.1 L209.2 139.1 L208.4 139.2 L207.6 139.3 L206.8 139.5 L206.1 139.7 L205.3 139.9 L204.6 140.1 L203.8 140.4 L203.1 140.7 L202.4 141.1 L202.7 141.8 L203.4 141.6 L204.2 141.4 L204.9 141.3 L205.6 141.1 L206.3 141 L207.1 141 L207.8 140.9 L208.5 140.9 L209.3 140.9 L210 140.9Z M209.3 139.5 L209 140 L208.6 140.6 L208.3 141.1 L207.9 141.6 L207.5 142.1 L207.1 142.6 L206.7 143.1 L206.3 143.6 L205.9 144 L205.5 144.5 L206 145 L206.5 144.7 L207 144.3 L207.5 143.8 L208 143.4 L208.5 143 L209 142.5 L209.4 142 L209.9 141.5 L210.3 141 L210.7 140.5Z" fill="#6cd836"/></g>
<g filter="url(#gf1)" opacity="1.0"><path d="M211.4 104.9 C213.2 100.2 215.9 94.3 219.3 90.5 C222.6 86.8 226.6 84.6 231.4 82.4 C236.1 80.1 242.5 77.5 247.6 77.1 C252.7 76.7 258.1 78.2 261.8 80.1 C265.6 82 267.3 85.6 270 88.3 C272.7 91 276 92.7 278 96.4 C280 100.2 281.8 106 282 110.7 C282.3 115.5 281.4 120.1 279.7 124.9 C278.1 129.7 274.7 135.3 272.1 139.3 C269.6 143.3 267.5 146.7 264.5 148.7 C261.5 150.7 258.1 150.4 254 151.3 C249.9 152.2 244.1 152 240 154 C235.9 156 232.8 160.1 229.3 163.1 C225.9 166 222.9 169.9 219.1 171.7 C215.4 173.5 209.8 174.6 206.7 174 C203.7 173.3 200.5 171.2 200.6 167.8 C200.7 164.3 205.7 158 207.2 153.1 C208.7 148.3 209.3 144.6 209.6 138.9 C209.8 133.2 208.2 124.6 208.5 119 C208.8 113.3 209.6 109.7 211.4 104.9Z" fill="#76ec3a"/></g>
<g filter="url(#hb)">
<ellipse cx="248.9" cy="122.7" rx="7.7" ry="7.7" fill="#020a01" opacity="1.0"/>
<ellipse cx="217.2" cy="136.4" rx="7.2" ry="7.2" fill="#0c3006" opacity="0.95"/>
<ellipse cx="264.8" cy="99.4" rx="5.5" ry="5.5" fill="#0c3006" opacity="0.4"/>
<ellipse cx="209.8" cy="167.1" rx="3.3" ry="3.3" fill="#0c3006" opacity="0.6"/>
</g>
<circle cx="307.6" cy="89.5" r="16.6" fill="url(#rg)" opacity="1.0" filter="url(#rb1)"/>
</g>
<g clip-path="url(#pc2)">
<rect x="350" y="27" width="170" height="190" fill="#000"/>
<circle cx="487" cy="85.8" r="16" fill="url(#rg)" opacity="0.92" filter="url(#rb2)"/>
<circle cx="417" cy="217" r="13" fill="url(#rg)" opacity="0.35" filter="url(#rb3)"/>
<ellipse cx="366" cy="214" rx="17" ry="4.5" fill="#76ec3a" opacity="0.325" filter="url(#eb)"/>
<g filter="url(#spk)" opacity="0.65"><ellipse cx="366" cy="214" rx="15.3" ry="4" fill="#76ec3a"/></g>
<g filter="url(#hf)" opacity="0.35"><path d="M399.4 105.8 C400.7 101.1 404.9 94.2 407.6 90.6 C410.4 87 412.6 85.4 416.1 84.1 C419.7 82.8 424.2 82.6 428.8 83 C433.5 83.3 439.9 84.2 443.8 86.1 C447.7 88.1 449.8 91.6 452.3 94.8 C454.7 98 457.2 101.2 458.5 105.4 C459.9 109.7 460.5 115.8 460.4 120.4 C460.3 125 458.8 129.2 458.1 133.1 C457.4 136.9 455.6 139.6 456 143.5 C456.4 147.3 460.5 152.4 460.6 156.3 C460.6 160.2 458.6 166 456.5 167 C454.3 168 450.6 165 447.7 162.4 C444.7 159.8 442.4 153.4 438.8 151.5 C435.3 149.6 430.5 149.6 426.4 151 C422.3 152.3 418.5 156.8 414.3 159.8 C410.1 162.8 406.1 166.2 401.4 168.9 C396.8 171.5 390.6 175.2 386.2 175.7 C381.9 176.1 377.9 174 375.4 171.6 C372.9 169.1 369.7 163.7 371.2 160.8 C372.7 157.9 381.1 157.1 384.5 154.2 C387.8 151.3 389 146.9 391.2 143.4 C393.5 139.9 396.6 137.2 398 133.1 C399.4 129 399.6 123.2 399.8 118.6 C400.1 114.1 398.1 110.4 399.4 105.8Z" fill="#76ec3a" stroke="#76ec3a" stroke-width="3"/></g>
<g filter="url(#spk)"><path d="M399.4 105.8 C400.7 101.1 404.9 94.2 407.6 90.6 C410.4 87 412.6 85.4 416.1 84.1 C419.7 82.8 424.2 82.6 428.8 83 C433.5 83.3 439.9 84.2 443.8 86.1 C447.7 88.1 449.8 91.6 452.3 94.8 C454.7 98 457.2 101.2 458.5 105.4 C459.9 109.7 460.5 115.8 460.4 120.4 C460.3 125 458.8 129.2 458.1 133.1 C457.4 136.9 455.6 139.6 456 143.5 C456.4 147.3 460.5 152.4 460.6 156.3 C460.6 160.2 458.6 166 456.5 167 C454.3 168 450.6 165 447.7 162.4 C444.7 159.8 442.4 153.4 438.8 151.5 C435.3 149.6 430.5 149.6 426.4 151 C422.3 152.3 418.5 156.8 414.3 159.8 C410.1 162.8 406.1 166.2 401.4 168.9 C396.8 171.5 390.6 175.2 386.2 175.7 C381.9 176.1 377.9 174 375.4 171.6 C372.9 169.1 369.7 163.7 371.2 160.8 C372.7 157.9 381.1 157.1 384.5 154.2 C387.8 151.3 389 146.9 391.2 143.4 C393.5 139.9 396.6 137.2 398 133.1 C399.4 129 399.6 123.2 399.8 118.6 C400.1 114.1 398.1 110.4 399.4 105.8Z" fill="#76ec3a" stroke="#76ec3a" stroke-width="4"/></g>
<g filter="url(#sf)" opacity="0.85"><path d="M420 86.8 L420.6 84.8 L421 82.8 L421.3 80.8 L421.4 78.9 L421.3 76.9 L421.1 75 L420.7 73.1 L420.1 71.2 L419.4 69.4 L418.4 67.7 L417.8 67.9 L418.1 69.8 L418.4 71.6 L418.6 73.4 L418.6 75.2 L418.5 76.9 L418.2 78.6 L417.8 80.3 L417.3 81.9 L416.7 83.5 L416 85.2Z M419.2 86.4 L419.5 85.2 L419.8 84.1 L420.1 83 L420.4 81.8 L420.7 80.7 L421 79.6 L421.4 78.4 L421.7 77.3 L422.1 76.2 L422.4 75.1 L421.8 74.8 L421.2 75.8 L420.6 76.9 L420.1 77.9 L419.6 79 L419.1 80.1 L418.6 81.2 L418.1 82.3 L417.7 83.4 L417.2 84.5 L416.8 85.6Z M418.9 85.3 L418.3 84.6 L417.8 83.8 L417.3 82.9 L416.8 82.1 L416.5 81.2 L416.1 80.3 L415.9 79.4 L415.7 78.5 L415.6 77.5 L415.4 76.4 L414.7 76.4 L414.6 77.5 L414.6 78.5 L414.6 79.6 L414.7 80.7 L414.9 81.7 L415.2 82.7 L415.6 83.7 L416 84.7 L416.5 85.7 L417.1 86.7Z M431.9 82.9 L430.8 81.2 L430 79.5 L429.3 77.8 L428.7 76.1 L428.4 74.3 L428.2 72.5 L428.3 70.6 L428.5 68.7 L428.9 66.7 L429.4 64.6 L428.8 64.4 L427.7 66.3 L426.8 68.3 L426.2 70.3 L425.7 72.3 L425.6 74.4 L425.6 76.6 L425.9 78.7 L426.4 80.8 L427.1 83 L428.1 85.1Z M431.2 84.2 L431.4 83 L431.6 81.7 L431.8 80.5 L432 79.3 L432.3 78.1 L432.6 76.9 L433 75.7 L433.3 74.5 L433.7 73.3 L434.1 72 L433.5 71.7 L432.8 72.9 L432.2 74 L431.7 75.2 L431.2 76.4 L430.7 77.6 L430.2 78.8 L429.8 80 L429.4 81.3 L429.1 82.5 L428.8 83.8Z M430.9 83.4 L430.3 82.5 L429.8 81.6 L429.3 80.8 L428.8 79.8 L428.3 78.9 L427.9 77.9 L427.6 76.9 L427.3 75.9 L427 74.9 L426.7 73.9 L426 73.9 L426 75.1 L426.2 76.2 L426.3 77.3 L426.6 78.4 L426.8 79.4 L427.2 80.5 L427.6 81.5 L428 82.6 L428.5 83.6 L429.1 84.6Z M411.5 86.8 L410.6 85.8 L409.8 84.8 L409.2 83.7 L408.6 82.6 L408.1 81.4 L407.8 80.2 L407.5 78.9 L407.4 77.5 L407.3 76.1 L407.3 74.7 L406.7 74.5 L406.1 76 L405.8 77.5 L405.6 78.9 L405.6 80.4 L405.7 81.9 L406 83.4 L406.4 84.9 L406.9 86.3 L407.7 87.8 L408.5 89.2Z M411 88.4 L411.3 87.5 L411.5 86.5 L411.7 85.6 L411.8 84.7 L411.9 83.7 L411.9 82.8 L411.9 81.9 L411.8 81 L411.7 80 L411.5 79.1 L410.8 79.2 L410.8 80.1 L410.7 81 L410.6 81.8 L410.5 82.7 L410.3 83.5 L410.1 84.4 L409.9 85.2 L409.6 86 L409.3 86.8 L409 87.6Z M410.7 87.3 L410.1 86.8 L409.6 86.3 L409.1 85.8 L408.7 85.2 L408.2 84.7 L407.8 84.1 L407.5 83.4 L407.2 82.8 L406.9 82.1 L406.6 81.4 L405.9 81.5 L406 82.3 L406.2 83.1 L406.4 83.9 L406.7 84.6 L407 85.4 L407.4 86.1 L407.8 86.8 L408.2 87.5 L408.8 88.1 L409.3 88.7Z M450.3 93.9 L452.8 93.2 L455.2 92.4 L457.5 91.4 L459.7 90.2 L461.7 88.9 L463.7 87.5 L465.5 85.9 L467.2 84.2 L468.8 82.3 L470.2 80.2 L469.6 79.8 L467.9 81.5 L466.1 83 L464.3 84.4 L462.4 85.7 L460.4 86.8 L458.4 87.8 L456.3 88.6 L454.2 89.2 L452 89.8 L449.7 90.1Z M450.6 92.9 L451.9 92.2 L453.2 91.5 L454.5 90.9 L455.9 90.4 L457.3 90 L458.7 89.7 L460.2 89.5 L461.7 89.4 L463.2 89.4 L464.8 89.5 L464.9 88.8 L463.3 88.5 L461.7 88.3 L460.1 88.2 L458.6 88.3 L457 88.5 L455.5 88.8 L453.9 89.2 L452.4 89.7 L450.9 90.3 L449.4 91.1Z M450.8 92.6 L451.5 91.6 L452.3 90.6 L453.1 89.6 L453.8 88.6 L454.6 87.6 L455.4 86.6 L456.3 85.6 L457.1 84.6 L457.9 83.7 L458.8 82.7 L458.3 82.2 L457.3 83 L456.3 83.9 L455.4 84.8 L454.5 85.7 L453.6 86.6 L452.7 87.5 L451.8 88.5 L450.9 89.4 L450.1 90.4 L449.2 91.4Z M460.6 113.5 L461.7 113 L462.7 112.6 L463.8 112.2 L464.9 112 L466 111.9 L467.1 111.8 L468.3 111.8 L469.4 111.9 L470.6 112.1 L471.9 112.3 L472.1 111.7 L471 111 L469.8 110.6 L468.5 110.2 L467.3 109.9 L466 109.7 L464.7 109.7 L463.4 109.7 L462.1 109.9 L460.7 110.1 L459.4 110.5Z M459.4 112.7 L460.1 113.2 L460.8 113.7 L461.6 114.1 L462.4 114.5 L463.2 114.7 L464 114.9 L464.8 115.1 L465.6 115.1 L466.5 115.1 L467.3 115 L467.3 114.3 L466.5 114.2 L465.7 114.1 L465 113.9 L464.3 113.7 L463.6 113.4 L463 113.1 L462.4 112.7 L461.8 112.3 L461.2 111.8 L460.6 111.3Z M460 112.9 L460.7 112.8 L461.5 112.7 L462.1 112.5 L462.8 112.3 L463.5 112.1 L464.1 111.8 L464.7 111.5 L465.4 111.2 L465.9 110.8 L466.5 110.3 L466.1 109.8 L465.5 110 L464.9 110.3 L464.3 110.5 L463.7 110.7 L463.1 110.8 L462.5 111 L461.9 111.1 L461.2 111.1 L460.6 111.1 L460 111.1Z M458.8 129 L460 130.1 L461.2 131 L462.4 131.8 L463.7 132.3 L465.1 132.8 L466.4 133 L467.8 133.1 L469.2 133 L470.7 132.8 L472.1 132.3 L471.9 131.7 L470.5 131.7 L469.2 131.6 L468 131.5 L466.8 131.2 L465.8 130.7 L464.7 130.2 L463.8 129.6 L462.9 128.8 L462 128 L461.2 127Z M459.3 128.6 L459.9 129.2 L460.6 129.8 L461.2 130.3 L461.9 130.9 L462.6 131.3 L463.3 131.8 L464 132.3 L464.7 132.7 L465.5 133.1 L466.3 133.4 L466.6 132.8 L466 132.3 L465.3 131.8 L464.7 131.3 L464.1 130.8 L463.5 130.3 L462.9 129.7 L462.3 129.1 L461.8 128.6 L461.2 128 L460.7 127.4Z M460.1 128.9 L460.8 128.7 L461.4 128.7 L462.1 128.6 L462.8 128.5 L463.5 128.5 L464.1 128.4 L464.8 128.4 L465.5 128.4 L466.2 128.5 L466.9 128.5 L467 127.8 L466.3 127.6 L465.6 127.5 L464.9 127.3 L464.2 127.2 L463.5 127.2 L462.8 127.1 L462.1 127.1 L461.3 127.1 L460.6 127.1 L459.9 127.1Z M457.5 150.5 L458.1 152 L458.9 153.5 L459.7 154.9 L460.6 156.2 L461.6 157.4 L462.7 158.6 L463.8 159.6 L465.1 160.6 L466.4 161.5 L467.8 162.3 L468.2 161.7 L467.1 160.6 L466 159.6 L465 158.5 L464.1 157.3 L463.3 156.1 L462.6 154.9 L462 153.6 L461.4 152.3 L460.9 150.9 L460.5 149.5Z M458.1 150.3 L458.5 151.2 L458.9 152.1 L459.2 153 L459.6 153.9 L459.9 154.8 L460.3 155.7 L460.6 156.6 L460.9 157.6 L461.2 158.5 L461.5 159.4 L462.2 159.3 L462 158.3 L461.9 157.3 L461.7 156.3 L461.5 155.4 L461.3 154.4 L461 153.5 L460.8 152.5 L460.5 151.5 L460.2 150.6 L459.9 149.7Z M458.7 150.8 L459.5 151.1 L460.2 151.4 L460.9 151.7 L461.6 152.1 L462.3 152.5 L463 152.9 L463.6 153.4 L464.2 153.9 L464.8 154.5 L465.4 155.1 L466 154.6 L465.5 153.9 L464.9 153.2 L464.3 152.6 L463.7 152 L463.1 151.4 L462.4 150.9 L461.7 150.4 L460.9 150 L460.1 149.6 L459.3 149.2Z M378.2 170.4 L376.8 170.4 L375.6 170.6 L374.3 170.8 L373.2 171.2 L372.1 171.7 L371 172.3 L370.1 173 L369.2 173.8 L368.4 174.7 L367.7 175.8 L368.3 176.2 L369.2 175.5 L370.1 174.9 L371 174.4 L371.9 173.9 L372.9 173.6 L373.8 173.4 L374.8 173.3 L375.8 173.3 L376.8 173.4 L377.8 173.6Z M378 171.1 L377.3 171.1 L376.6 171.2 L375.9 171.2 L375.2 171.3 L374.5 171.4 L373.8 171.4 L373.1 171.5 L372.4 171.6 L371.7 171.7 L371 171.9 L371 172.6 L371.7 172.6 L372.4 172.7 L373.1 172.7 L373.8 172.7 L374.5 172.8 L375.2 172.8 L375.9 172.8 L376.6 172.9 L377.3 172.9 L378 172.9Z M377.3 171.5 L377 172 L376.7 172.4 L376.3 172.8 L375.9 173.3 L375.5 173.7 L375.1 174 L374.7 174.4 L374.2 174.7 L373.7 175.1 L373.3 175.4 L373.5 176 L374.1 175.8 L374.7 175.6 L375.3 175.3 L375.8 175 L376.3 174.7 L376.9 174.3 L377.3 173.9 L377.8 173.5 L378.3 173 L378.7 172.5Z M373.3 163.1 L372.5 162.3 L371.7 161.5 L370.9 160.9 L370 160.4 L369 159.9 L368.1 159.7 L367.1 159.5 L366.1 159.4 L365 159.5 L364 159.7 L364 160.3 L365 160.5 L365.9 160.8 L366.7 161.1 L367.4 161.4 L368.1 161.8 L368.7 162.3 L369.3 162.9 L369.8 163.5 L370.3 164.2 L370.7 164.9Z M372.5 163.2 L372 162.9 L371.6 162.6 L371.1 162.3 L370.7 162 L370.2 161.7 L369.8 161.3 L369.4 160.9 L369.1 160.5 L368.7 160.1 L368.3 159.6 L367.7 159.9 L367.9 160.5 L368.2 161.1 L368.5 161.6 L368.9 162.1 L369.2 162.6 L369.6 163.1 L370.1 163.6 L370.5 164 L371 164.4 L371.5 164.8Z M372.1 163.1 L371.6 163.1 L371.2 163.1 L370.7 163 L370.2 163 L369.7 163 L369.2 162.9 L368.7 162.9 L368.2 162.9 L367.7 162.9 L367.2 162.9 L367.1 163.5 L367.6 163.7 L368 163.9 L368.5 164 L369 164.1 L369.5 164.2 L369.9 164.4 L370.4 164.5 L370.9 164.6 L371.4 164.7 L371.9 164.9Z" fill="#6cd836"/></g>
<g filter="url(#gf2)" opacity="1.0"><path d="M399.4 105.8 C400.7 101.1 404.9 94.2 407.6 90.6 C410.4 87 412.6 85.4 416.1 84.1 C419.7 82.8 424.2 82.6 428.8 83 C433.5 83.3 439.9 84.2 443.8 86.1 C447.7 88.1 449.8 91.6 452.3 94.8 C454.7 98 457.2 101.2 458.5 105.4 C459.9 109.7 460.5 115.8 460.4 120.4 C460.3 125 458.8 129.2 458.1 133.1 C457.4 136.9 455.6 139.6 456 143.5 C456.4 147.3 460.5 152.4 460.6 156.3 C460.6 160.2 458.6 166 456.5 167 C454.3 168 450.6 165 447.7 162.4 C444.7 159.8 442.4 153.4 438.8 151.5 C435.3 149.6 430.5 149.6 426.4 151 C422.3 152.3 418.5 156.8 414.3 159.8 C410.1 162.8 406.1 166.2 401.4 168.9 C396.8 171.5 390.6 175.2 386.2 175.7 C381.9 176.1 377.9 174 375.4 171.6 C372.9 169.1 369.7 163.7 371.2 160.8 C372.7 157.9 381.1 157.1 384.5 154.2 C387.8 151.3 389 146.9 391.2 143.4 C393.5 139.9 396.6 137.2 398 133.1 C399.4 129 399.6 123.2 399.8 118.6 C400.1 114.1 398.1 110.4 399.4 105.8Z" fill="#76ec3a"/></g>
<g filter="url(#hb)">
<ellipse cx="435.3" cy="110.4" rx="7.3" ry="7.3" fill="#0c3006" opacity="0.9"/>
<ellipse cx="432.4" cy="126.3" rx="7.3" ry="7.3" fill="#0c3006" opacity="0.9"/>
<ellipse cx="402.3" cy="108.7" rx="4.4" ry="5.5" fill="#0c3006" opacity="0.35"/>
<ellipse cx="387.1" cy="166.1" rx="3.3" ry="2.2" fill="#0c3006" opacity="0.6"/>
</g>
</g>
<g clip-path="url(#pc3)">
<rect x="2" y="220" width="170.5" height="190" fill="#000"/>
<ellipse cx="4" cy="264" rx="3" ry="8" fill="#76ec3a" opacity="0.3" filter="url(#eb)"/>
<g filter="url(#spk)" opacity="0.6"><ellipse cx="4" cy="264" rx="2.7" ry="7.2" fill="#76ec3a"/></g>
<g filter="url(#hf)" opacity="0.35"><path d="M52.1 315.5 C52.4 311.2 53.3 306.1 55.1 301.7 C56.8 297.3 59.3 292.2 62.5 288.9 C65.6 285.7 69.9 283.1 73.9 282 C77.9 280.9 82.7 281.3 86.4 282.4 C90.1 283.5 93.3 285.7 95.9 288.7 C98.6 291.7 100.5 295.9 102.5 300.3 C104.5 304.7 106.5 310.6 107.7 315.1 C108.9 319.5 110.4 323.4 109.7 327.1 C109 330.8 106.3 334.8 103.5 337.1 C100.7 339.4 96.8 339.6 93.1 340.9 C89.4 342.1 84.7 342.8 81.1 344.5 C77.5 346.1 74.1 347.7 71.5 350.5 C68.9 353.3 67.9 358.6 65.6 361.1 C63.2 363.6 60.4 365 57.4 365.4 C54.4 365.8 50.3 365 47.3 363.5 C44.3 362.1 40.3 359.3 39.5 356.7 C38.7 354 41 350 42.6 347.9 C44.3 345.7 47.3 345.7 49.6 343.8 C52 342 56.1 339.4 56.7 336.7 C57.3 333.9 53.8 330.7 53 327.2 C52.2 323.6 51.8 319.7 52.1 315.5Z" fill="#76ec3a" stroke="#76ec3a" stroke-width="3"/></g>
<g filter="url(#spk)"><path d="M52.1 315.5 C52.4 311.2 53.3 306.1 55.1 301.7 C56.8 297.3 59.3 292.2 62.5 288.9 C65.6 285.7 69.9 283.1 73.9 282 C77.9 280.9 82.7 281.3 86.4 282.4 C90.1 283.5 93.3 285.7 95.9 288.7 C98.6 291.7 100.5 295.9 102.5 300.3 C104.5 304.7 106.5 310.6 107.7 315.1 C108.9 319.5 110.4 323.4 109.7 327.1 C109 330.8 106.3 334.8 103.5 337.1 C100.7 339.4 96.8 339.6 93.1 340.9 C89.4 342.1 84.7 342.8 81.1 344.5 C77.5 346.1 74.1 347.7 71.5 350.5 C68.9 353.3 67.9 358.6 65.6 361.1 C63.2 363.6 60.4 365 57.4 365.4 C54.4 365.8 50.3 365 47.3 363.5 C44.3 362.1 40.3 359.3 39.5 356.7 C38.7 354 41 350 42.6 347.9 C44.3 345.7 47.3 345.7 49.6 343.8 C52 342 56.1 339.4 56.7 336.7 C57.3 333.9 53.8 330.7 53 327.2 C52.2 323.6 51.8 319.7 52.1 315.5Z" fill="#76ec3a" stroke="#76ec3a" stroke-width="4"/></g>
<g filter="url(#sf)" opacity="0.85"><path d="M63.5 284.6 L63.2 283.7 L62.8 282.9 L62.4 282.2 L61.9 281.4 L61.4 280.7 L60.8 280 L60.3 279.4 L59.6 278.8 L59 278.2 L58.2 277.8 L57.8 278.2 L58.2 279 L58.6 279.7 L58.9 280.4 L59.2 281.1 L59.5 281.8 L59.8 282.5 L60 283.2 L60.2 283.9 L60.3 284.7 L60.5 285.4Z M62.9 285.1 L62.9 284.5 L62.9 283.9 L62.8 283.3 L62.7 282.8 L62.5 282.2 L62.4 281.7 L62.2 281.2 L62 280.7 L61.7 280.2 L61.4 279.7 L60.8 280 L60.9 280.5 L61 281 L61.1 281.5 L61.1 282 L61.2 282.5 L61.2 283 L61.2 283.5 L61.2 284 L61.1 284.4 L61.1 284.9Z M62.5 284.3 L62.2 284.1 L61.8 283.8 L61.4 283.6 L61.1 283.4 L60.7 283.1 L60.4 282.8 L60.1 282.6 L59.7 282.3 L59.4 282 L59 281.7 L58.5 282.2 L58.7 282.6 L59 283 L59.3 283.3 L59.6 283.7 L59.8 284.1 L60.2 284.4 L60.5 284.7 L60.8 285.1 L61.1 285.4 L61.5 285.7Z M79.2 279.9 L78.6 279.5 L78.2 279 L77.8 278.5 L77.4 278 L77.1 277.5 L76.9 276.9 L76.7 276.3 L76.5 275.6 L76.4 274.9 L76.3 274.1 L75.7 273.9 L75.3 274.7 L75.1 275.6 L75 276.4 L75 277.2 L75.1 278 L75.2 278.9 L75.5 279.7 L75.9 280.5 L76.3 281.3 L76.8 282.1Z M78.9 281 L78.9 280.5 L78.8 280.1 L78.8 279.6 L78.8 279.1 L78.7 278.7 L78.7 278.2 L78.7 277.8 L78.7 277.3 L78.7 276.8 L78.7 276.3 L78 276.2 L77.8 276.7 L77.7 277.1 L77.6 277.6 L77.4 278.1 L77.3 278.6 L77.3 279.1 L77.2 279.6 L77.1 280 L77.1 280.5 L77.1 281Z M78.8 280.6 L78.6 280.3 L78.3 279.9 L78.1 279.6 L77.9 279.2 L77.6 278.9 L77.3 278.6 L77 278.2 L76.7 278 L76.4 277.7 L76.1 277.4 L75.6 277.9 L75.8 278.2 L76 278.6 L76.1 278.9 L76.3 279.2 L76.5 279.6 L76.7 279.9 L76.8 280.3 L77 280.6 L77.1 281 L77.2 281.4Z M92.7 284.4 L93.5 283.8 L94.2 283.2 L94.8 282.6 L95.3 281.9 L95.7 281.1 L96 280.4 L96.2 279.6 L96.4 278.7 L96.4 277.9 L96.3 277 L95.7 277 L95.4 277.7 L95.1 278.4 L94.7 279 L94.3 279.5 L93.9 280 L93.5 280.4 L93 280.7 L92.5 281.1 L91.9 281.3 L91.3 281.6Z M92.7 283.6 L93 283.3 L93.3 283 L93.5 282.6 L93.9 282.3 L94.2 282 L94.5 281.7 L94.8 281.4 L95.2 281.1 L95.6 280.8 L95.9 280.5 L95.6 279.9 L95.1 280 L94.7 280.2 L94.2 280.4 L93.8 280.6 L93.3 280.9 L92.9 281.1 L92.5 281.4 L92.1 281.7 L91.7 282 L91.3 282.4Z M92.7 283.5 L92.9 283.1 L93.1 282.7 L93.3 282.3 L93.5 281.8 L93.6 281.4 L93.6 280.9 L93.6 280.5 L93.6 280.1 L93.6 279.6 L93.5 279.2 L92.8 279.2 L92.7 279.6 L92.6 280 L92.6 280.4 L92.4 280.7 L92.3 281 L92.2 281.3 L92 281.6 L91.8 281.9 L91.6 282.2 L91.3 282.5Z M106.5 322.6 L107.2 324 L108.1 325.3 L109 326.4 L110 327.4 L111.2 328.3 L112.4 329 L113.7 329.6 L115 330 L116.5 330.3 L117.9 330.3 L118.1 329.7 L116.7 329.2 L115.5 328.7 L114.4 328.1 L113.4 327.4 L112.5 326.6 L111.7 325.8 L111 324.8 L110.4 323.8 L109.9 322.7 L109.5 321.4Z M107.3 322.6 L107.8 323.2 L108.3 323.8 L108.8 324.5 L109.3 325.1 L109.8 325.8 L110.3 326.5 L110.7 327.1 L111.1 327.8 L111.6 328.5 L112 329.3 L112.6 329 L112.4 328.2 L112.1 327.4 L111.7 326.6 L111.4 325.8 L111 325.1 L110.6 324.3 L110.2 323.6 L109.7 322.8 L109.2 322.1 L108.7 321.4Z M107.9 322.9 L108.6 322.9 L109.2 323 L109.9 323.1 L110.6 323.3 L111.2 323.5 L111.8 323.7 L112.5 323.9 L113.1 324.2 L113.7 324.5 L114.3 324.9 L114.8 324.3 L114.2 323.8 L113.6 323.4 L113 323 L112.3 322.6 L111.7 322.3 L111 322 L110.3 321.7 L109.6 321.5 L108.9 321.3 L108.1 321.1Z M108.8 333.6 L109.8 333.6 L110.8 333.7 L111.7 333.9 L112.6 334.2 L113.5 334.5 L114.4 334.9 L115.2 335.4 L116.1 335.9 L116.9 336.5 L117.7 337.2 L118.3 336.8 L117.7 335.8 L117 334.9 L116.2 334.1 L115.4 333.3 L114.5 332.6 L113.6 332 L112.6 331.5 L111.5 331.1 L110.4 330.7 L109.2 330.4Z M108.2 332.5 L108.6 333.1 L109 333.6 L109.4 334.2 L109.9 334.7 L110.4 335.2 L110.9 335.7 L111.4 336.2 L112 336.6 L112.6 337 L113.2 337.3 L113.6 336.8 L113.1 336.3 L112.7 335.8 L112.2 335.3 L111.8 334.8 L111.4 334.3 L111.1 333.8 L110.7 333.2 L110.4 332.7 L110.1 332.1 L109.8 331.5Z M108.9 332.9 L109.5 332.9 L110 332.9 L110.6 332.9 L111.1 333 L111.7 333 L112.2 333.1 L112.8 333.2 L113.3 333.3 L113.9 333.4 L114.4 333.5 L114.7 332.8 L114.1 332.6 L113.6 332.3 L113.1 332.1 L112.5 331.9 L111.9 331.8 L111.4 331.6 L110.8 331.5 L110.2 331.3 L109.6 331.2 L109.1 331.1Z M38 350.4 L37.1 350.6 L36.2 350.8 L35.3 351.1 L34.5 351.4 L33.8 351.8 L33.1 352.3 L32.4 352.8 L31.8 353.4 L31.2 354 L30.8 354.8 L31.2 355.2 L32 354.9 L32.6 354.5 L33.3 354.2 L33.9 354 L34.6 353.8 L35.3 353.6 L36 353.5 L36.6 353.5 L37.3 353.5 L38 353.6Z M38.2 351.1 L37.6 351 L37.1 351 L36.5 351 L36 351.1 L35.5 351.1 L35 351.2 L34.4 351.4 L33.9 351.5 L33.4 351.7 L33 351.9 L33.2 352.6 L33.7 352.6 L34.1 352.5 L34.6 352.5 L35.1 352.5 L35.5 352.5 L36 352.6 L36.5 352.6 L36.9 352.7 L37.4 352.8 L37.8 352.9Z M37.5 351.3 L37.2 351.6 L36.8 351.9 L36.5 352.1 L36.2 352.5 L35.9 352.8 L35.6 353.1 L35.3 353.4 L35.1 353.8 L34.8 354.1 L34.6 354.5 L35.1 355 L35.4 354.7 L35.7 354.5 L36.1 354.2 L36.4 354 L36.7 353.8 L37.1 353.5 L37.4 353.3 L37.8 353.1 L38.1 352.9 L38.5 352.7Z" fill="#6cd836"/></g>
<g filter="url(#gf3)" opacity="0.95"><path d="M52.1 315.5 C52.4 311.2 53.3 306.1 55.1 301.7 C56.8 297.3 59.3 292.2 62.5 288.9 C65.6 285.7 69.9 283.1 73.9 282 C77.9 280.9 82.7 281.3 86.4 282.4 C90.1 283.5 93.3 285.7 95.9 288.7 C98.6 291.7 100.5 295.9 102.5 300.3 C104.5 304.7 106.5 310.6 107.7 315.1 C108.9 319.5 110.4 323.4 109.7 327.1 C109 330.8 106.3 334.8 103.5 337.1 C100.7 339.4 96.8 339.6 93.1 340.9 C89.4 342.1 84.7 342.8 81.1 344.5 C77.5 346.1 74.1 347.7 71.5 350.5 C68.9 353.3 67.9 358.6 65.6 361.1 C63.2 363.6 60.4 365 57.4 365.4 C54.4 365.8 50.3 365 47.3 363.5 C44.3 362.1 40.3 359.3 39.5 356.7 C38.7 354 41 350 42.6 347.9 C44.3 345.7 47.3 345.7 49.6 343.8 C52 342 56.1 339.4 56.7 336.7 C57.3 333.9 53.8 330.7 53 327.2 C52.2 323.6 51.8 319.7 52.1 315.5Z" fill="#76ec3a"/></g>
<g filter="url(#hb)">
<ellipse cx="83.2" cy="322.9" rx="6.6" ry="6.6" fill="#020a01" opacity="1.0"/>
<ellipse cx="77.9" cy="336.6" rx="5.5" ry="5" fill="#0c3006" opacity="0.95"/>
<ellipse cx="94" cy="306" rx="3.3" ry="3.3" fill="#0c3006" opacity="0.4"/>
<ellipse cx="68" cy="344" rx="3.3" ry="3.3" fill="#0c3006" opacity="0.4"/>
<ellipse cx="76" cy="318" rx="16.5" ry="12.1" fill="#0c3006" opacity="0.3"/>
<path d="M58.8 316.5 L71.5 308.1" stroke="#041402" stroke-width="3.5" stroke-linecap="round" opacity="0.8"/>
<path d="M80 298 L92 296" stroke="#041402" stroke-width="2.5" stroke-linecap="round" opacity="0.55"/>
<path d="M96 318 L94 332" stroke="#041402" stroke-width="2.5" stroke-linecap="round" opacity="0.45"/>
<path d="M64 340 L72 334" stroke="#041402" stroke-width="2.5" stroke-linecap="round" opacity="0.45"/>
</g>
<circle cx="125.6" cy="299" r="16.8" fill="url(#rg)" opacity="0.95" filter="url(#rb1)"/>
<circle cx="56" cy="224" r="13" fill="url(#rg)" opacity="0.3" filter="url(#rb3)"/>
</g>
<g clip-path="url(#pc4)">
<rect x="176" y="220" width="170.5" height="190" fill="#000"/>
<ellipse cx="218" cy="222" rx="14" ry="3" fill="#76ec3a" opacity="0.225" filter="url(#eb)"/>
<g filter="url(#spk)" opacity="0.45"><ellipse cx="218" cy="222" rx="12.6" ry="2.7" fill="#76ec3a"/></g>
<g filter="url(#hf)" opacity="0.35"><path d="M217.2 292.3 C217.4 290.7 222.6 291.6 224.7 288.9 C226.8 286.1 227.5 279.6 229.8 275.9 C232.2 272.2 235 267.8 239 266.5 C242.9 265.3 249.9 266.9 253.5 268.5 C257.2 270.1 259 272.6 260.7 276 C262.5 279.5 262.2 287.6 264 289.2 C265.8 290.7 268.5 285.2 271.6 285.1 C274.7 285 281.6 286.5 282.8 288.6 C284 290.7 280.5 295.1 278.9 297.8 C277.2 300.6 274.3 302.1 273 305.1 C271.7 308.1 270.9 311.5 271.3 315.7 C271.7 320 276.3 327.5 275.4 330.6 C274.6 333.6 269.3 332.9 266.2 334.1 C263.2 335.3 260.8 336.4 257.2 337.7 C253.5 338.9 248.7 340.8 244.4 341.5 C240.2 342.2 235.6 342.3 231.6 341.7 C227.7 341.1 222.3 339.9 220.5 338.1 C218.7 336.2 219.5 333.4 220.7 330.6 C221.9 327.7 226.4 324.3 227.6 320.8 C228.8 317.3 228.6 313.4 228 309.6 C227.4 305.9 225.7 301.5 223.9 298.6 C222.1 295.7 217.1 293.9 217.2 292.3Z" fill="#76ec3a" stroke="#76ec3a" stroke-width="3"/></g>
<g filter="url(#spk)"><path d="M217.2 292.3 C217.4 290.7 222.6 291.6 224.7 288.9 C226.8 286.1 227.5 279.6 229.8 275.9 C232.2 272.2 235 267.8 239 266.5 C242.9 265.3 249.9 266.9 253.5 268.5 C257.2 270.1 259 272.6 260.7 276 C262.5 279.5 262.2 287.6 264 289.2 C265.8 290.7 268.5 285.2 271.6 285.1 C274.7 285 281.6 286.5 282.8 288.6 C284 290.7 280.5 295.1 278.9 297.8 C277.2 300.6 274.3 302.1 273 305.1 C271.7 308.1 270.9 311.5 271.3 315.7 C271.7 320 276.3 327.5 275.4 330.6 C274.6 333.6 269.3 332.9 266.2 334.1 C263.2 335.3 260.8 336.4 257.2 337.7 C253.5 338.9 248.7 340.8 244.4 341.5 C240.2 342.2 235.6 342.3 231.6 341.7 C227.7 341.1 222.3 339.9 220.5 338.1 C218.7 336.2 219.5 333.4 220.7 330.6 C221.9 327.7 226.4 324.3 227.6 320.8 C228.8 317.3 228.6 313.4 228 309.6 C227.4 305.9 225.7 301.5 223.9 298.6 C222.1 295.7 217.1 293.9 217.2 292.3Z" fill="#76ec3a" stroke="#76ec3a" stroke-width="4"/></g>
<g filter="url(#sf)" opacity="0.85"><path d="M223.5 287.8 L222.1 286.4 L220.6 285.2 L219.1 284.1 L217.6 283.2 L216 282.3 L214.3 281.6 L212.6 281 L210.9 280.6 L209.1 280.3 L207.3 280.2 L207.1 280.8 L208.8 281.4 L210.4 282.1 L211.9 282.8 L213.4 283.6 L214.8 284.5 L216.1 285.4 L217.3 286.5 L218.4 287.7 L219.5 288.9 L220.5 290.2Z M222.9 288.4 L222.2 287.5 L221.5 286.6 L220.8 285.7 L220 284.9 L219.3 284 L218.5 283.2 L217.7 282.5 L216.8 281.7 L216 281 L215.1 280.3 L214.6 280.8 L215.3 281.6 L216 282.5 L216.7 283.3 L217.4 284.2 L218.1 285.1 L218.7 285.9 L219.3 286.8 L219.9 287.7 L220.5 288.7 L221.1 289.6Z M222.4 288.1 L221.5 287.8 L220.5 287.5 L219.6 287.2 L218.6 287 L217.7 286.8 L216.7 286.7 L215.8 286.6 L214.8 286.5 L213.8 286.5 L212.9 286.6 L212.8 287.3 L213.8 287.4 L214.7 287.6 L215.6 287.8 L216.5 288 L217.4 288.2 L218.2 288.5 L219.1 288.8 L219.9 289.2 L220.8 289.5 L221.6 289.9Z M230.8 285 L229.2 283.8 L227.4 282.6 L225.7 281.6 L223.8 280.7 L222 280 L220 279.5 L218.1 279 L216.1 278.7 L214.1 278.6 L212 278.7 L212 279.3 L214 279.6 L215.9 279.9 L217.8 280.4 L219.6 281 L221.3 281.7 L223 282.5 L224.6 283.4 L226.2 284.5 L227.7 285.7 L229.2 287Z M230.7 285.6 L229.9 284.5 L229 283.5 L228.2 282.5 L227.2 281.6 L226.3 280.8 L225.2 280 L224.2 279.2 L223.1 278.6 L221.9 277.9 L220.7 277.4 L220.4 278 L221.5 278.7 L222.6 279.4 L223.6 280.1 L224.5 280.9 L225.5 281.7 L226.3 282.5 L227.1 283.4 L227.9 284.4 L228.6 285.4 L229.3 286.4Z M230.3 285.3 L229.2 285 L228.1 284.7 L227 284.5 L225.9 284.3 L224.8 284.3 L223.7 284.3 L222.6 284.3 L221.5 284.4 L220.4 284.6 L219.3 284.9 L219.5 285.6 L220.6 285.4 L221.6 285.4 L222.7 285.3 L223.7 285.3 L224.7 285.4 L225.7 285.6 L226.7 285.7 L227.8 286 L228.7 286.3 L229.7 286.7Z M234.6 270.3 L234.6 269.2 L234.5 268.1 L234.4 267.1 L234.1 266.1 L233.7 265.2 L233.2 264.3 L232.6 263.6 L231.9 262.9 L231.1 262.2 L230.2 261.7 L229.8 262.3 L230.3 263 L230.8 263.8 L231.2 264.5 L231.5 265.2 L231.7 265.9 L231.8 266.7 L231.8 267.4 L231.8 268.1 L231.6 268.9 L231.4 269.7Z M233.9 270.3 L234 269.7 L234.1 269.1 L234.2 268.4 L234.2 267.8 L234.2 267.2 L234.1 266.6 L234 266 L233.8 265.4 L233.6 264.9 L233.3 264.3 L232.6 264.6 L232.7 265.1 L232.8 265.7 L232.8 266.2 L232.8 266.7 L232.8 267.2 L232.7 267.7 L232.6 268.2 L232.5 268.7 L232.3 269.2 L232.1 269.7Z M233.7 269.5 L233.4 269.1 L233.1 268.8 L232.7 268.4 L232.4 268.1 L232.1 267.7 L231.8 267.4 L231.4 267.1 L231.1 266.7 L230.8 266.4 L230.4 266.1 L229.8 266.5 L230.1 266.9 L230.3 267.3 L230.6 267.7 L230.8 268.1 L231.1 268.5 L231.3 268.9 L231.6 269.3 L231.8 269.7 L232.1 270.1 L232.3 270.5Z M256.3 268.1 L256.3 267.3 L256.3 266.4 L256.4 265.6 L256.5 264.9 L256.7 264.1 L256.9 263.3 L257.2 262.5 L257.5 261.8 L257.9 261 L258.3 260.2 L257.7 259.8 L257.1 260.4 L256.5 261.1 L256 261.9 L255.5 262.7 L255 263.5 L254.7 264.3 L254.4 265.2 L254.1 266.1 L253.9 267 L253.7 267.9Z M255.7 268.5 L255.9 268 L256.2 267.5 L256.5 267.1 L256.8 266.6 L257.2 266.2 L257.5 265.8 L257.8 265.3 L258.2 264.9 L258.5 264.5 L258.9 264 L258.4 263.5 L257.9 263.9 L257.5 264.2 L257.1 264.6 L256.6 265 L256.2 265.4 L255.8 265.8 L255.4 266.2 L255.1 266.7 L254.7 267.1 L254.3 267.5Z M255.7 268.2 L255.8 267.7 L255.9 267.2 L256 266.7 L256 266.2 L256 265.7 L256 265.2 L256 264.7 L255.9 264.2 L255.8 263.7 L255.6 263.2 L254.9 263.4 L255 263.9 L255 264.3 L255 264.8 L254.9 265.2 L254.9 265.6 L254.8 266.1 L254.7 266.5 L254.6 266.9 L254.5 267.3 L254.3 267.8Z M262.6 277.1 L263.6 276.5 L264.5 275.8 L265.3 275 L266.1 274.2 L266.7 273.3 L267.2 272.3 L267.7 271.3 L268 270.3 L268.2 269.2 L268.3 268.1 L267.7 267.9 L267.3 268.9 L266.9 269.9 L266.4 270.7 L265.9 271.5 L265.3 272.2 L264.6 272.9 L263.9 273.4 L263.2 274 L262.3 274.4 L261.4 274.9Z M262.3 276.7 L262.9 276.4 L263.5 276.1 L264.1 275.7 L264.7 275.4 L265.2 275 L265.7 274.6 L266.3 274.1 L266.8 273.7 L267.2 273.2 L267.7 272.7 L267.2 272.2 L266.7 272.6 L266.2 272.9 L265.6 273.3 L265.1 273.6 L264.5 274 L264 274.3 L263.4 274.5 L262.9 274.8 L262.3 275 L261.7 275.3Z M262.6 276.4 L262.9 275.8 L263.1 275.3 L263.3 274.8 L263.5 274.2 L263.7 273.7 L263.9 273.1 L264 272.6 L264.1 272 L264.2 271.5 L264.2 270.9 L263.5 270.8 L263.3 271.3 L263.2 271.8 L263 272.3 L262.8 272.8 L262.6 273.3 L262.4 273.8 L262.2 274.3 L261.9 274.7 L261.6 275.2 L261.4 275.6Z M282.8 291 L283.6 290.2 L284.4 289.6 L285.2 289.1 L286 288.6 L286.9 288.2 L287.8 287.9 L288.8 287.6 L289.8 287.5 L290.8 287.4 L292 287.3 L292 286.7 L290.9 286.4 L289.8 286.3 L288.6 286.2 L287.5 286.3 L286.4 286.5 L285.3 286.8 L284.2 287.2 L283.2 287.7 L282.2 288.3 L281.2 289Z M281.7 290.7 L282.4 291 L283.1 291.2 L283.9 291.3 L284.6 291.4 L285.3 291.4 L286 291.4 L286.8 291.3 L287.5 291.2 L288.2 291 L288.9 290.7 L288.7 290.1 L288 290.2 L287.3 290.2 L286.7 290.3 L286 290.2 L285.4 290.2 L284.8 290.1 L284.1 289.9 L283.5 289.8 L282.9 289.5 L282.3 289.3Z M282.4 290.6 L282.9 290.3 L283.3 289.9 L283.8 289.6 L284.3 289.2 L284.7 288.9 L285.2 288.5 L285.6 288.2 L286.1 287.8 L286.5 287.5 L287 287.1 L286.6 286.5 L286.1 286.8 L285.6 287.1 L285.1 287.4 L284.6 287.6 L284.1 287.9 L283.6 288.2 L283.1 288.5 L282.6 288.8 L282.1 289.1 L281.6 289.4Z M221.6 336.8 L220.6 337.2 L219.6 337.7 L218.7 338.3 L217.8 338.9 L216.9 339.6 L216.2 340.3 L215.5 341.1 L214.8 342 L214.2 342.8 L213.7 343.8 L214.3 344.2 L215 343.5 L215.7 342.8 L216.5 342.1 L217.2 341.5 L218 341 L218.8 340.5 L219.7 340.1 L220.5 339.8 L221.4 339.5 L222.4 339.2Z M221.8 337.2 L221.2 337.4 L220.6 337.6 L219.9 337.8 L219.3 338.1 L218.7 338.3 L218.1 338.5 L217.5 338.8 L216.9 339 L216.3 339.3 L215.7 339.6 L215.9 340.2 L216.5 340.1 L217.2 339.9 L217.8 339.8 L218.4 339.6 L219 339.5 L219.7 339.3 L220.3 339.2 L220.9 339 L221.6 338.9 L222.2 338.8Z M221.5 337.4 L221.1 337.8 L220.7 338.3 L220.3 338.7 L219.9 339.2 L219.6 339.7 L219.3 340.2 L219 340.7 L218.8 341.2 L218.6 341.8 L218.4 342.3 L219.1 342.6 L219.4 342.1 L219.6 341.6 L219.9 341.2 L220.2 340.7 L220.5 340.3 L220.9 339.9 L221.2 339.6 L221.6 339.2 L222 338.9 L222.5 338.6Z M272.8 332.4 L273.3 333.6 L274 334.8 L274.7 335.8 L275.5 336.8 L276.4 337.6 L277.3 338.4 L278.4 339 L279.5 339.6 L280.6 340 L281.9 340.3 L282.1 339.7 L281 339.1 L280 338.5 L279.2 337.9 L278.3 337.1 L277.6 336.4 L277 335.5 L276.4 334.7 L276 333.7 L275.5 332.7 L275.2 331.6Z M273.4 332.6 L274 333.1 L274.4 333.6 L274.9 334.1 L275.3 334.7 L275.6 335.3 L275.9 335.9 L276.2 336.6 L276.4 337.2 L276.6 338 L276.8 338.7 L277.5 338.6 L277.4 337.8 L277.3 337 L277.2 336.3 L277 335.5 L276.7 334.8 L276.4 334.1 L276 333.4 L275.6 332.7 L275.1 332.1 L274.6 331.4Z M273.8 332.7 L274.4 332.8 L275 333 L275.6 333.2 L276.1 333.4 L276.7 333.6 L277.2 333.8 L277.7 334.1 L278.3 334.4 L278.8 334.8 L279.3 335.2 L279.7 334.6 L279.3 334.2 L278.8 333.7 L278.3 333.3 L277.8 332.9 L277.2 332.6 L276.6 332.2 L276.1 332 L275.4 331.7 L274.8 331.5 L274.2 331.3Z" fill="#6cd836"/></g>
<g filter="url(#gf4)" opacity="0.92"><path d="M217.2 292.3 C217.4 290.7 222.6 291.6 224.7 288.9 C226.8 286.1 227.5 279.6 229.8 275.9 C232.2 272.2 235 267.8 239 266.5 C242.9 265.3 249.9 266.9 253.5 268.5 C257.2 270.1 259 272.6 260.7 276 C262.5 279.5 262.2 287.6 264 289.2 C265.8 290.7 268.5 285.2 271.6 285.1 C274.7 285 281.6 286.5 282.8 288.6 C284 290.7 280.5 295.1 278.9 297.8 C277.2 300.6 274.3 302.1 273 305.1 C271.7 308.1 270.9 311.5 271.3 315.7 C271.7 320 276.3 327.5 275.4 330.6 C274.6 333.6 269.3 332.9 266.2 334.1 C263.2 335.3 260.8 336.4 257.2 337.7 C253.5 338.9 248.7 340.8 244.4 341.5 C240.2 342.2 235.6 342.3 231.6 341.7 C227.7 341.1 222.3 339.9 220.5 338.1 C218.7 336.2 219.5 333.4 220.7 330.6 C221.9 327.7 226.4 324.3 227.6 320.8 C228.8 317.3 228.6 313.4 228 309.6 C227.4 305.9 225.7 301.5 223.9 298.6 C222.1 295.7 217.1 293.9 217.2 292.3Z" fill="#76ec3a"/></g>
<g filter="url(#hb)">
<ellipse cx="251.9" cy="321.3" rx="6.6" ry="5.3" fill="#020a01" opacity="1.0"/>
<ellipse cx="263.5" cy="327.1" rx="5" ry="4.6" fill="#020a01" opacity="1.0"/>
<ellipse cx="244.2" cy="277" rx="7.2" ry="6.1" fill="#0c3006" opacity="0.75"/>
<ellipse cx="238" cy="300" rx="3.3" ry="3.3" fill="#0c3006" opacity="0.3"/>
</g>
<circle cx="291.1" cy="313.8" r="16.5" fill="url(#rg)" opacity="0.95" filter="url(#rb1)"/>
<circle cx="302" cy="374.6" r="15.8" fill="url(#rg)" opacity="0.8" filter="url(#rb2)"/>
</g>
<g clip-path="url(#pc5)">
<rect x="350" y="220" width="170" height="190" fill="#000"/>
<g filter="url(#hf)" opacity="0.35"><path d="M387 274.8 C387.3 271.3 391.6 266.5 394.8 263.4 C398.1 260.2 402.6 257.2 406.4 255.8 C410.3 254.4 414.4 255 418 254.9 C421.5 254.8 424 255.2 427.5 255 C431 254.8 435.4 253.2 438.9 254 C442.4 254.8 445.9 256.9 448.4 259.8 C451 262.6 452.5 267.5 454 271.3 C455.6 275.1 457.8 278.9 457.8 282.6 C457.8 286.4 455.2 290.8 453.9 293.9 C452.6 297.1 450.9 298 450 301.5 C449.1 305 449.1 311.5 448.5 315.1 C448 318.7 449 322.1 446.8 323 C444.5 324 438.7 321.6 435.1 320.9 C431.6 320.1 428.7 320.5 425.6 318.8 C422.4 317.1 419 313.5 416.2 310.9 C413.4 308.3 411.3 306.1 408.8 303.2 C406.2 300.4 403.7 297.1 401.1 293.9 C398.5 290.8 395.5 287.7 393.2 284.5 C390.8 281.3 386.8 278.4 387 274.8Z" fill="#76ec3a" stroke="#76ec3a" stroke-width="3"/></g>
<g filter="url(#spk)"><path d="M387 274.8 C387.3 271.3 391.6 266.5 394.8 263.4 C398.1 260.2 402.6 257.2 406.4 255.8 C410.3 254.4 414.4 255 418 254.9 C421.5 254.8 424 255.2 427.5 255 C431 254.8 435.4 253.2 438.9 254 C442.4 254.8 445.9 256.9 448.4 259.8 C451 262.6 452.5 267.5 454 271.3 C455.6 275.1 457.8 278.9 457.8 282.6 C457.8 286.4 455.2 290.8 453.9 293.9 C452.6 297.1 450.9 298 450 301.5 C449.1 305 449.1 311.5 448.5 315.1 C448 318.7 449 322.1 446.8 323 C444.5 324 438.7 321.6 435.1 320.9 C431.6 320.1 428.7 320.5 425.6 318.8 C422.4 317.1 419 313.5 416.2 310.9 C413.4 308.3 411.3 306.1 408.8 303.2 C406.2 300.4 403.7 297.1 401.1 293.9 C398.5 290.8 395.5 287.7 393.2 284.5 C390.8 281.3 386.8 278.4 387 274.8Z" fill="#76ec3a" stroke="#76ec3a" stroke-width="4"/></g>
<g filter="url(#sf)" opacity="0.85"><path d="M399.3 259.8 L398.9 258.6 L398.5 257.4 L398 256.3 L397.5 255.3 L396.8 254.3 L396 253.4 L395.2 252.6 L394.3 251.9 L393.3 251.2 L392.2 250.7 L391.8 251.3 L392.7 252.1 L393.5 252.8 L394.2 253.6 L394.8 254.4 L395.3 255.3 L395.8 256.2 L396.1 257.1 L396.4 258.1 L396.6 259.1 L396.7 260.2Z M398.7 259.6 L398.4 259 L398.1 258.4 L397.8 257.8 L397.5 257.2 L397.3 256.5 L397.1 255.9 L397 255.2 L396.9 254.6 L396.8 253.9 L396.7 253.2 L396 253.2 L395.9 253.9 L395.9 254.6 L396 255.4 L396 256.1 L396.1 256.8 L396.3 257.6 L396.5 258.3 L396.7 259 L397 259.7 L397.3 260.4Z M398.6 259.5 L398.1 259.1 L397.7 258.6 L397.2 258.2 L396.7 257.8 L396.2 257.4 L395.7 257.1 L395.2 256.8 L394.7 256.5 L394.1 256.2 L393.5 255.9 L393.2 256.6 L393.7 256.9 L394.2 257.2 L394.7 257.6 L395.1 257.9 L395.5 258.3 L395.9 258.7 L396.3 259.1 L396.7 259.6 L397.1 260 L397.4 260.5Z M421 254.2 L420.4 253.5 L419.9 252.8 L419.5 252.1 L419.1 251.3 L418.8 250.5 L418.6 249.7 L418.4 248.9 L418.3 248 L418.3 247.1 L418.3 246.1 L417.7 245.9 L417.3 246.9 L417.1 247.9 L417 248.9 L417 249.9 L417.1 250.9 L417.3 251.9 L417.6 252.9 L417.9 253.9 L418.4 254.8 L419 255.8Z M420.8 254.8 L420.6 254.3 L420.5 253.7 L420.5 253.1 L420.4 252.6 L420.5 252 L420.5 251.5 L420.6 250.9 L420.7 250.4 L420.9 249.8 L421.1 249.2 L420.5 248.9 L420.1 249.5 L419.8 250 L419.6 250.6 L419.4 251.3 L419.2 251.9 L419.1 252.5 L419.1 253.2 L419.1 253.8 L419.1 254.5 L419.2 255.2Z M420.6 254.6 L420.3 254.2 L420.1 253.8 L419.8 253.4 L419.5 252.9 L419.2 252.5 L418.9 252.1 L418.7 251.7 L418.4 251.3 L418.1 250.8 L417.8 250.4 L417.2 250.8 L417.4 251.2 L417.6 251.7 L417.8 252.2 L418 252.6 L418.2 253.1 L418.4 253.6 L418.7 254 L418.9 254.5 L419.1 254.9 L419.4 255.4Z M447 256.8 L447.6 256 L448.1 255.2 L448.7 254.5 L449.4 253.8 L450.1 253.1 L450.8 252.5 L451.6 251.9 L452.4 251.4 L453.2 250.8 L454.1 250.3 L453.9 249.7 L452.8 249.9 L451.8 250.3 L450.9 250.7 L449.9 251.2 L449 251.7 L448.1 252.3 L447.3 252.9 L446.5 253.6 L445.7 254.4 L445 255.2Z M446 256.8 L446.7 256.8 L447.4 256.7 L448.1 256.5 L448.8 256.3 L449.4 256.1 L450.1 255.9 L450.7 255.6 L451.3 255.2 L451.9 254.8 L452.4 254.4 L452 253.8 L451.4 254.1 L450.9 254.4 L450.3 254.6 L449.7 254.8 L449.1 255 L448.5 255.1 L447.9 255.2 L447.3 255.2 L446.6 255.2 L446 255.2Z M446.7 256.2 L446.9 255.7 L447 255.2 L447.2 254.8 L447.5 254.3 L447.7 253.9 L448 253.4 L448.3 253 L448.7 252.6 L449 252.2 L449.4 251.8 L449 251.3 L448.5 251.6 L448 251.9 L447.6 252.3 L447.2 252.7 L446.8 253.2 L446.4 253.7 L446.1 254.1 L445.8 254.7 L445.5 255.2 L445.3 255.8Z M458.8 285 L459.3 284.5 L459.8 284.1 L460.4 283.7 L460.9 283.4 L461.5 283.1 L462.2 282.9 L462.8 282.7 L463.5 282.5 L464.2 282.4 L465 282.3 L465 281.7 L464.2 281.4 L463.4 281.3 L462.6 281.3 L461.8 281.3 L461.1 281.4 L460.3 281.6 L459.5 281.8 L458.7 282.2 L457.9 282.5 L457.2 283Z M457.9 284.8 L458.4 284.8 L458.9 284.8 L459.4 284.8 L459.8 284.8 L460.3 284.8 L460.8 284.8 L461.3 284.8 L461.8 284.8 L462.2 284.7 L462.7 284.7 L462.7 284 L462.3 283.9 L461.8 283.8 L461.3 283.8 L460.9 283.7 L460.4 283.6 L459.9 283.5 L459.5 283.5 L459 283.4 L458.5 283.3 L458.1 283.2Z M458.4 284.6 L458.7 284.3 L459 284.1 L459.3 283.8 L459.6 283.6 L460 283.3 L460.3 283.1 L460.6 282.8 L460.9 282.6 L461.2 282.4 L461.5 282.1 L461.2 281.5 L460.8 281.7 L460.4 281.8 L460.1 282 L459.7 282.2 L459.3 282.4 L459 282.6 L458.6 282.8 L458.3 283 L457.9 283.2 L457.6 283.4Z M446.7 322 L446.9 323.2 L447.1 324.4 L447.4 325.6 L447.8 326.7 L448.2 327.7 L448.8 328.7 L449.4 329.7 L450.1 330.6 L450.9 331.4 L451.7 332.2 L452.3 331.8 L451.6 330.8 L451.1 329.9 L450.6 329 L450.2 328 L449.9 327 L449.6 326.1 L449.4 325.1 L449.3 324.1 L449.3 323 L449.3 322Z M447.2 322 L447.2 322.7 L447.2 323.4 L447.2 324.1 L447.3 324.8 L447.3 325.5 L447.4 326.2 L447.5 326.9 L447.6 327.6 L447.7 328.3 L447.9 329 L448.6 329 L448.6 328.3 L448.5 327.6 L448.5 326.9 L448.5 326.2 L448.6 325.5 L448.6 324.8 L448.6 324.1 L448.7 323.4 L448.7 322.7 L448.8 322Z M447.4 322.4 L447.8 322.9 L448.1 323.4 L448.5 323.8 L448.9 324.3 L449.3 324.7 L449.7 325.2 L450.2 325.6 L450.6 326 L451 326.4 L451.5 326.8 L452 326.4 L451.6 325.9 L451.3 325.4 L450.9 325 L450.6 324.5 L450.2 324 L449.9 323.5 L449.6 323 L449.2 322.6 L448.9 322.1 L448.6 321.6Z M386.9 279.3 L386.5 280 L386.1 280.6 L385.6 281.1 L385.1 281.6 L384.6 282.1 L384 282.5 L383.3 282.9 L382.6 283.2 L381.8 283.4 L381 283.7 L381 284.3 L381.9 284.4 L382.9 284.3 L383.7 284.2 L384.6 284 L385.4 283.6 L386.2 283.2 L387 282.7 L387.7 282.1 L388.4 281.5 L389.1 280.7Z M387.8 279.2 L387.3 279.4 L386.8 279.6 L386.3 279.7 L385.8 279.8 L385.3 280 L384.8 280.1 L384.3 280.2 L383.8 280.3 L383.3 280.4 L382.8 280.5 L382.9 281.2 L383.4 281.3 L383.9 281.3 L384.5 281.2 L385 281.2 L385.5 281.2 L386.1 281.1 L386.6 281 L387.1 281 L387.7 280.9 L388.2 280.8Z M387.4 279.6 L387.2 279.9 L386.9 280.3 L386.7 280.6 L386.4 281 L386.2 281.3 L385.9 281.7 L385.6 282 L385.3 282.3 L385 282.6 L384.7 283 L385.2 283.5 L385.6 283.3 L386 283 L386.3 282.7 L386.7 282.4 L387 282.1 L387.3 281.8 L387.7 281.5 L388 281.1 L388.3 280.8 L388.6 280.4Z" fill="#6cd836"/></g>
<g filter="url(#gf5)" opacity="0.8"><path d="M387 274.8 C387.3 271.3 391.6 266.5 394.8 263.4 C398.1 260.2 402.6 257.2 406.4 255.8 C410.3 254.4 414.4 255 418 254.9 C421.5 254.8 424 255.2 427.5 255 C431 254.8 435.4 253.2 438.9 254 C442.4 254.8 445.9 256.9 448.4 259.8 C451 262.6 452.5 267.5 454 271.3 C455.6 275.1 457.8 278.9 457.8 282.6 C457.8 286.4 455.2 290.8 453.9 293.9 C452.6 297.1 450.9 298 450 301.5 C449.1 305 449.1 311.5 448.5 315.1 C448 318.7 449 322.1 446.8 323 C444.5 324 438.7 321.6 435.1 320.9 C431.6 320.1 428.7 320.5 425.6 318.8 C422.4 317.1 419 313.5 416.2 310.9 C413.4 308.3 411.3 306.1 408.8 303.2 C406.2 300.4 403.7 297.1 401.1 293.9 C398.5 290.8 395.5 287.7 393.2 284.5 C390.8 281.3 386.8 278.4 387 274.8Z" fill="#76ec3a"/></g>
<g filter="url(#hb)">
<ellipse cx="418.4" cy="304.6" rx="5.5" ry="5" fill="#0c3006" opacity="0.95"/>
<ellipse cx="429.5" cy="310.7" rx="4.4" ry="3.9" fill="#0c3006" opacity="0.9"/>
<ellipse cx="423.5" cy="284.4" rx="6.6" ry="5.5" fill="#0c3006" opacity="0.7"/>
<ellipse cx="408" cy="292" rx="4.4" ry="3.3" fill="#0c3006" opacity="0.5"/>
<ellipse cx="440" cy="298" rx="4.4" ry="3.3" fill="#0c3006" opacity="0.5"/>
<ellipse cx="412" cy="276" rx="3.3" ry="3.3" fill="#0c3006" opacity="0.4"/>
<ellipse cx="447" cy="282" rx="3.3" ry="3.3" fill="#0c3006" opacity="0.4"/>
<ellipse cx="434" cy="270" rx="3.3" ry="3.3" fill="#0c3006" opacity="0.4"/>
<ellipse cx="430" cy="296" rx="4.4" ry="4.4" fill="#0c3006" opacity="0.45"/>
<path d="M421.4 258 L421.4 272" stroke="#041402" stroke-width="3" stroke-linecap="round" opacity="0.7"/>
</g>
<circle cx="466" cy="311.5" r="16.3" fill="url(#rg)" opacity="0.95" filter="url(#rb2)"/>
<circle cx="347" cy="312" r="10" fill="url(#rg)" opacity="0.75" filter="url(#rb2)"/>
<circle cx="493.8" cy="386.7" r="10" fill="url(#rg)" opacity="0.5" filter="url(#rb2)"/>
</g>
<g font-weight="bold" font-size="19.5" fill="#fff" stroke="#fff" stroke-width="0.6">
<text x="7.3" y="48.4">15 m</text>
<text x="182.3" y="48.3">15.5 m</text>
<text x="356.3" y="48.4">16 m</text>
<text x="7.3" y="242.3">18 m</text>
<text x="182.3" y="242.3">19.5 m</text>
<text x="356.3" y="242.3">22 m</text>
</g>
<g font-weight="bold" font-size="23.5" fill="#000" stroke="#000" stroke-width="0.5">
<text x="5.2" y="19">A</text>
<text x="2" y="458.4">B</text>
<text x="3" y="830.8">C</text>
</g>
<g fill="#000" stroke="#000" stroke-width="0.35">
<line x1="95.5" y1="452.4" x2="95.5" y2="729.3" stroke="#000" stroke-width="3.4"/>
<line x1="86" y1="720.8" x2="496.1" y2="720.8" stroke="#000" stroke-width="3.4"/>
<line x1="86" y1="720.8" x2="95.5" y2="720.8" stroke="#000" stroke-width="3.4"/>
<text x="84.5" y="727.7" text-anchor="end" font-size="19.5" font-weight="bold">0</text>
<line x1="86" y1="667.4" x2="95.5" y2="667.4" stroke="#000" stroke-width="3.4"/>
<text x="84.5" y="674.3" text-anchor="end" font-size="19.5" font-weight="bold">10</text>
<line x1="86" y1="614.1" x2="95.5" y2="614.1" stroke="#000" stroke-width="3.4"/>
<text x="84.5" y="621" text-anchor="end" font-size="19.5" font-weight="bold">20</text>
<line x1="86" y1="560.7" x2="95.5" y2="560.7" stroke="#000" stroke-width="3.4"/>
<text x="84.5" y="567.6" text-anchor="end" font-size="19.5" font-weight="bold">30</text>
<line x1="86" y1="507.4" x2="95.5" y2="507.4" stroke="#000" stroke-width="3.4"/>
<text x="84.5" y="514.3" text-anchor="end" font-size="19.5" font-weight="bold">40</text>
<line x1="86" y1="454" x2="95.5" y2="454" stroke="#000" stroke-width="3.4"/>
<text x="84.5" y="460.9" text-anchor="end" font-size="19.5" font-weight="bold">50</text>
<line x1="95.6" y1="720.8" x2="95.6" y2="730.3" stroke="#000" stroke-width="3.4"/>
<text x="95.6" y="751.5" text-anchor="middle" font-size="19.5" font-weight="bold">0</text>
<line x1="228.6" y1="720.8" x2="228.6" y2="730.3" stroke="#000" stroke-width="3.4"/>
<text x="228.6" y="751.5" text-anchor="middle" font-size="19.5" font-weight="bold">20</text>
<line x1="361.5" y1="720.8" x2="361.5" y2="730.3" stroke="#000" stroke-width="3.4"/>
<text x="361.5" y="751.5" text-anchor="middle" font-size="19.5" font-weight="bold">40</text>
<line x1="494.5" y1="720.8" x2="494.5" y2="730.3" stroke="#000" stroke-width="3.4"/>
<text x="494.5" y="751.5" text-anchor="middle" font-size="19.5" font-weight="bold">60</text>
<text x="295" y="783.2" text-anchor="middle" font-size="21.3" font-weight="bold">Time (min)</text>
<text transform="translate(35.8 603.3) rotate(-90)" text-anchor="middle" font-size="21.3" font-weight="bold">DC - T cell distance (<tspan font-family="Liberation Serif" font-weight="normal" stroke="none" font-size="23.3">&#956;</tspan>M)</text>
</g>
<defs><clipPath id="cb"><rect x="90" y="454" width="420" height="280"/></clipPath><clipPath id="cc"><rect x="96" y="825" width="420" height="280"/></clipPath></defs>
<g clip-path="url(#cb)">
<path d="M102.2 554 L108.9 572.2 L115.5 605.5 L122.2 621.6 L128.8 636 L135.5 626 L142.1 620.6 L148.8 626.8 L155.4 635 L162.1 618.4 L168.7 627 L175.4 644.2 L182 640.6 L188.7 640.6 L195.3 636.2 L202 658.2 L208.6 662.6 L215.3 657.8 L221.9 662 L228.6 660.3 L235.2 671 L241.9 658.6 L248.5 660.7 L255.2 659.3 L261.8 662 L268.4 662 L275.1 668 L281.7 669.6 L288.4 638 L295 645.8 L301.7 642.8 L308.3 642.8 L315 658 L321.6 649.9 L328.3 664.2 L334.9 669.3 L341.6 659.6 L348.2 670.7 L354.9 675.8 L361.5 669.3 L368.2 675.1 L374.8 685.7 L381.5 678.8 L388.1 676.5 L394.8 685.6 L401.4 678.5 L408.1 660.7 L414.7 661.8 L421.4 666.9 L428 660.5 L434.6 660.5 L441.3 660.7 L447.9 653.5 L454.6 652.6 L461.2 662.3 L467.9 670.8 L474.5 659.3 L481.2 659.3 L487.8 666.5 L494.5 661.6" fill="none" stroke="#5a2424" stroke-width="1.4" stroke-linejoin="round"/>
<circle cx="102.2" cy="554" r="2.4" fill="#7e1f1f" stroke="#5a1414" stroke-width="0.8"/>
<circle cx="108.9" cy="572.2" r="2.4" fill="#7e1f1f" stroke="#5a1414" stroke-width="0.8"/>
<circle cx="115.5" cy="605.5" r="2.4" fill="#7e1f1f" stroke="#5a1414" stroke-width="0.8"/>
<circle cx="122.2" cy="621.6" r="2.4" fill="#7e1f1f" stroke="#5a1414" stroke-width="0.8"/>
<circle cx="128.8" cy="636" r="2.4" fill="#7e1f1f" stroke="#5a1414" stroke-width="0.8"/>
<circle cx="135.5" cy="626" r="2.4" fill="#7e1f1f" stroke="#5a1414" stroke-width="0.8"/>
<circle cx="142.1" cy="620.6" r="2.4" fill="#7e1f1f" stroke="#5a1414" stroke-width="0.8"/>
<circle cx="148.8" cy="626.8" r="2.4" fill="#7e1f1f" stroke="#5a1414" stroke-width="0.8"/>
<circle cx="155.4" cy="635" r="2.4" fill="#7e1f1f" stroke="#5a1414" stroke-width="0.8"/>
<circle cx="162.1" cy="618.4" r="2.4" fill="#7e1f1f" stroke="#5a1414" stroke-width="0.8"/>
<circle cx="168.7" cy="627" r="2.4" fill="#7e1f1f" stroke="#5a1414" stroke-width="0.8"/>
<circle cx="175.4" cy="644.2" r="2.4" fill="#7e1f1f" stroke="#5a1414" stroke-width="0.8"/>
<circle cx="182" cy="640.6" r="2.4" fill="#7e1f1f" stroke="#5a1414" stroke-width="0.8"/>
<circle cx="188.7" cy="640.6" r="2.4" fill="#7e1f1f" stroke="#5a1414" stroke-width="0.8"/>
<circle cx="195.3" cy="636.2" r="2.4" fill="#7e1f1f" stroke="#5a1414" stroke-width="0.8"/>
<circle cx="202" cy="658.2" r="2.4" fill="#7e1f1f" stroke="#5a1414" stroke-width="0.8"/>
<circle cx="208.6" cy="662.6" r="2.4" fill="#7e1f1f" stroke="#5a1414" stroke-width="0.8"/>
<circle cx="215.3" cy="657.8" r="2.4" fill="#7e1f1f" stroke="#5a1414" stroke-width="0.8"/>
<circle cx="221.9" cy="662" r="2.4" fill="#7e1f1f" stroke="#5a1414" stroke-width="0.8"/>
<circle cx="228.6" cy="660.3" r="2.4" fill="#7e1f1f" stroke="#5a1414" stroke-width="0.8"/>
<circle cx="235.2" cy="671" r="2.4" fill="#7e1f1f" stroke="#5a1414" stroke-width="0.8"/>
<circle cx="241.9" cy="658.6" r="2.4" fill="#7e1f1f" stroke="#5a1414" stroke-width="0.8"/>
<circle cx="248.5" cy="660.7" r="2.4" fill="#7e1f1f" stroke="#5a1414" stroke-width="0.8"/>
<circle cx="255.2" cy="659.3" r="2.4" fill="#7e1f1f" stroke="#5a1414" stroke-width="0.8"/>
<circle cx="261.8" cy="662" r="2.4" fill="#7e1f1f" stroke="#5a1414" stroke-width="0.8"/>
<circle cx="268.4" cy="662" r="2.4" fill="#7e1f1f" stroke="#5a1414" stroke-width="0.8"/>
<circle cx="275.1" cy="668" r="2.4" fill="#7e1f1f" stroke="#5a1414" stroke-width="0.8"/>
<circle cx="281.7" cy="669.6" r="2.4" fill="#7e1f1f" stroke="#5a1414" stroke-width="0.8"/>
<circle cx="288.4" cy="638" r="2.4" fill="#7e1f1f" stroke="#5a1414" stroke-width="0.8"/>
<circle cx="295" cy="645.8" r="2.4" fill="#7e1f1f" stroke="#5a1414" stroke-width="0.8"/>
<circle cx="301.7" cy="642.8" r="2.4" fill="#7e1f1f" stroke="#5a1414" stroke-width="0.8"/>
<circle cx="308.3" cy="642.8" r="2.4" fill="#7e1f1f" stroke="#5a1414" stroke-width="0.8"/>
<circle cx="315" cy="658" r="2.4" fill="#7e1f1f" stroke="#5a1414" stroke-width="0.8"/>
<circle cx="321.6" cy="649.9" r="2.4" fill="#7e1f1f" stroke="#5a1414" stroke-width="0.8"/>
<circle cx="328.3" cy="664.2" r="2.4" fill="#7e1f1f" stroke="#5a1414" stroke-width="0.8"/>
<circle cx="334.9" cy="669.3" r="2.4" fill="#7e1f1f" stroke="#5a1414" stroke-width="0.8"/>
<circle cx="341.6" cy="659.6" r="2.4" fill="#7e1f1f" stroke="#5a1414" stroke-width="0.8"/>
<circle cx="348.2" cy="670.7" r="2.4" fill="#7e1f1f" stroke="#5a1414" stroke-width="0.8"/>
<circle cx="354.9" cy="675.8" r="2.4" fill="#7e1f1f" stroke="#5a1414" stroke-width="0.8"/>
<circle cx="361.5" cy="669.3" r="2.4" fill="#7e1f1f" stroke="#5a1414" stroke-width="0.8"/>
<circle cx="368.2" cy="675.1" r="2.4" fill="#7e1f1f" stroke="#5a1414" stroke-width="0.8"/>
<circle cx="374.8" cy="685.7" r="2.4" fill="#7e1f1f" stroke="#5a1414" stroke-width="0.8"/>
<circle cx="381.5" cy="678.8" r="2.4" fill="#7e1f1f" stroke="#5a1414" stroke-width="0.8"/>
<circle cx="388.1" cy="676.5" r="2.4" fill="#7e1f1f" stroke="#5a1414" stroke-width="0.8"/>
<circle cx="394.8" cy="685.6" r="2.4" fill="#7e1f1f" stroke="#5a1414" stroke-width="0.8"/>
<circle cx="401.4" cy="678.5" r="2.4" fill="#7e1f1f" stroke="#5a1414" stroke-width="0.8"/>
<circle cx="408.1" cy="660.7" r="2.4" fill="#7e1f1f" stroke="#5a1414" stroke-width="0.8"/>
<circle cx="414.7" cy="661.8" r="2.4" fill="#7e1f1f" stroke="#5a1414" stroke-width="0.8"/>
<circle cx="421.4" cy="666.9" r="2.4" fill="#7e1f1f" stroke="#5a1414" stroke-width="0.8"/>
<circle cx="428" cy="660.5" r="2.4" fill="#7e1f1f" stroke="#5a1414" stroke-width="0.8"/>
<circle cx="434.6" cy="660.5" r="2.4" fill="#7e1f1f" stroke="#5a1414" stroke-width="0.8"/>
<circle cx="441.3" cy="660.7" r="2.4" fill="#7e1f1f" stroke="#5a1414" stroke-width="0.8"/>
<circle cx="447.9" cy="653.5" r="2.4" fill="#7e1f1f" stroke="#5a1414" stroke-width="0.8"/>
<circle cx="454.6" cy="652.6" r="2.4" fill="#7e1f1f" stroke="#5a1414" stroke-width="0.8"/>
<circle cx="461.2" cy="662.3" r="2.4" fill="#7e1f1f" stroke="#5a1414" stroke-width="0.8"/>
<circle cx="467.9" cy="670.8" r="2.4" fill="#7e1f1f" stroke="#5a1414" stroke-width="0.8"/>
<circle cx="474.5" cy="659.3" r="2.4" fill="#7e1f1f" stroke="#5a1414" stroke-width="0.8"/>
<circle cx="481.2" cy="659.3" r="2.4" fill="#7e1f1f" stroke="#5a1414" stroke-width="0.8"/>
<circle cx="487.8" cy="666.5" r="2.4" fill="#7e1f1f" stroke="#5a1414" stroke-width="0.8"/>
<circle cx="494.5" cy="661.6" r="2.4" fill="#7e1f1f" stroke="#5a1414" stroke-width="0.8"/>
<path d="M102.2 626 L108.9 629.4 L115.5 640.2 L122.2 638.1 L128.8 651.6 L135.5 649.8 L142.1 635.5 L148.8 646 L155.4 657.8 L162.1 658.9 L168.7 661.5 L175.4 679.2 L182 658 L188.7 654.2 L195.3 663 L202 652 L208.6 670 L215.3 644.5 L221.9 627.7 L228.6 622.9 L235.2 611 L241.9 580 L248.5 531.5 L255.2 561.2 L261.8 553.6 L268.4 534.8 L275.1 527.5 L281.7 489 L288.4 483.1 L295 458.3 L301.7 449.1" fill="none" stroke="#85855a" stroke-width="1.4" stroke-linejoin="round"/>
<circle cx="102.2" cy="626" r="2.4" fill="#9a9a2c" stroke="#70701e" stroke-width="0.8"/>
<circle cx="108.9" cy="629.4" r="2.4" fill="#9a9a2c" stroke="#70701e" stroke-width="0.8"/>
<circle cx="115.5" cy="640.2" r="2.4" fill="#9a9a2c" stroke="#70701e" stroke-width="0.8"/>
<circle cx="122.2" cy="638.1" r="2.4" fill="#9a9a2c" stroke="#70701e" stroke-width="0.8"/>
<circle cx="128.8" cy="651.6" r="2.4" fill="#9a9a2c" stroke="#70701e" stroke-width="0.8"/>
<circle cx="135.5" cy="649.8" r="2.4" fill="#9a9a2c" stroke="#70701e" stroke-width="0.8"/>
<circle cx="142.1" cy="635.5" r="2.4" fill="#9a9a2c" stroke="#70701e" stroke-width="0.8"/>
<circle cx="148.8" cy="646" r="2.4" fill="#9a9a2c" stroke="#70701e" stroke-width="0.8"/>
<circle cx="155.4" cy="657.8" r="2.4" fill="#9a9a2c" stroke="#70701e" stroke-width="0.8"/>
<circle cx="162.1" cy="658.9" r="2.4" fill="#9a9a2c" stroke="#70701e" stroke-width="0.8"/>
<circle cx="168.7" cy="661.5" r="2.4" fill="#9a9a2c" stroke="#70701e" stroke-width="0.8"/>
<circle cx="175.4" cy="679.2" r="2.4" fill="#9a9a2c" stroke="#70701e" stroke-width="0.8"/>
<circle cx="182" cy="658" r="2.4" fill="#9a9a2c" stroke="#70701e" stroke-width="0.8"/>
<circle cx="188.7" cy="654.2" r="2.4" fill="#9a9a2c" stroke="#70701e" stroke-width="0.8"/>
<circle cx="195.3" cy="663" r="2.4" fill="#9a9a2c" stroke="#70701e" stroke-width="0.8"/>
<circle cx="202" cy="652" r="2.4" fill="#9a9a2c" stroke="#70701e" stroke-width="0.8"/>
<circle cx="208.6" cy="670" r="2.4" fill="#9a9a2c" stroke="#70701e" stroke-width="0.8"/>
<circle cx="215.3" cy="644.5" r="2.4" fill="#9a9a2c" stroke="#70701e" stroke-width="0.8"/>
<circle cx="221.9" cy="627.7" r="2.4" fill="#9a9a2c" stroke="#70701e" stroke-width="0.8"/>
<circle cx="228.6" cy="622.9" r="2.4" fill="#9a9a2c" stroke="#70701e" stroke-width="0.8"/>
<circle cx="235.2" cy="611" r="2.4" fill="#9a9a2c" stroke="#70701e" stroke-width="0.8"/>
<circle cx="241.9" cy="580" r="2.4" fill="#9a9a2c" stroke="#70701e" stroke-width="0.8"/>
<circle cx="248.5" cy="531.5" r="2.4" fill="#9a9a2c" stroke="#70701e" stroke-width="0.8"/>
<circle cx="255.2" cy="561.2" r="2.4" fill="#9a9a2c" stroke="#70701e" stroke-width="0.8"/>
<circle cx="261.8" cy="553.6" r="2.4" fill="#9a9a2c" stroke="#70701e" stroke-width="0.8"/>
<circle cx="268.4" cy="534.8" r="2.4" fill="#9a9a2c" stroke="#70701e" stroke-width="0.8"/>
<circle cx="275.1" cy="527.5" r="2.4" fill="#9a9a2c" stroke="#70701e" stroke-width="0.8"/>
<circle cx="281.7" cy="489" r="2.4" fill="#9a9a2c" stroke="#70701e" stroke-width="0.8"/>
<circle cx="288.4" cy="483.1" r="2.4" fill="#9a9a2c" stroke="#70701e" stroke-width="0.8"/>
<circle cx="295" cy="458.3" r="2.4" fill="#9a9a2c" stroke="#70701e" stroke-width="0.8"/>
<path d="M102.2 675.7 L108.9 647.4 L115.5 668.5 L122.2 660 L128.8 660.8 L135.5 669.2 L142.1 666.2 L148.8 675.4 L155.4 691.5 L162.1 689.8 L168.7 690.1 L175.4 704.3 L182 691 L188.7 687.5 L195.3 682.8 L202 700 L208.6 693.8 L215.3 681.9 L221.9 684.3 L228.6 679.5 L235.2 684.4 L241.9 664.3 L248.5 645 L255.2 652.9 L261.8 654 L268.4 654 L275.1 645.5 L281.7 630.2 L288.4 623.6 L295 611.1 L301.7 620.8 L308.3 612.5 L315 633.5 L321.6 635.6 L328.3 653.8 L334.9 662.6 L341.6 658.5 L348.2 634.9 L354.9 602.4 L361.5 578.8" fill="none" stroke="#6a8450" stroke-width="1.4" stroke-linejoin="round"/>
<circle cx="102.2" cy="675.7" r="2.4" fill="#5f8a26" stroke="#44661c" stroke-width="0.8"/>
<circle cx="108.9" cy="647.4" r="2.4" fill="#5f8a26" stroke="#44661c" stroke-width="0.8"/>
<circle cx="115.5" cy="668.5" r="2.4" fill="#5f8a26" stroke="#44661c" stroke-width="0.8"/>
<circle cx="122.2" cy="660" r="2.4" fill="#5f8a26" stroke="#44661c" stroke-width="0.8"/>
<circle cx="128.8" cy="660.8" r="2.4" fill="#5f8a26" stroke="#44661c" stroke-width="0.8"/>
<circle cx="135.5" cy="669.2" r="2.4" fill="#5f8a26" stroke="#44661c" stroke-width="0.8"/>
<circle cx="142.1" cy="666.2" r="2.4" fill="#5f8a26" stroke="#44661c" stroke-width="0.8"/>
<circle cx="148.8" cy="675.4" r="2.4" fill="#5f8a26" stroke="#44661c" stroke-width="0.8"/>
<circle cx="155.4" cy="691.5" r="2.4" fill="#5f8a26" stroke="#44661c" stroke-width="0.8"/>
<circle cx="162.1" cy="689.8" r="2.4" fill="#5f8a26" stroke="#44661c" stroke-width="0.8"/>
<circle cx="168.7" cy="690.1" r="2.4" fill="#5f8a26" stroke="#44661c" stroke-width="0.8"/>
<circle cx="175.4" cy="704.3" r="2.4" fill="#5f8a26" stroke="#44661c" stroke-width="0.8"/>
<circle cx="182" cy="691" r="2.4" fill="#5f8a26" stroke="#44661c" stroke-width="0.8"/>
<circle cx="188.7" cy="687.5" r="2.4" fill="#5f8a26" stroke="#44661c" stroke-width="0.8"/>
<circle cx="195.3" cy="682.8" r="2.4" fill="#5f8a26" stroke="#44661c" stroke-width="0.8"/>
<circle cx="202" cy="700" r="2.4" fill="#5f8a26" stroke="#44661c" stroke-width="0.8"/>
<circle cx="208.6" cy="693.8" r="2.4" fill="#5f8a26" stroke="#44661c" stroke-width="0.8"/>
<circle cx="215.3" cy="681.9" r="2.4" fill="#5f8a26" stroke="#44661c" stroke-width="0.8"/>
<circle cx="221.9" cy="684.3" r="2.4" fill="#5f8a26" stroke="#44661c" stroke-width="0.8"/>
<circle cx="228.6" cy="679.5" r="2.4" fill="#5f8a26" stroke="#44661c" stroke-width="0.8"/>
<circle cx="235.2" cy="684.4" r="2.4" fill="#5f8a26" stroke="#44661c" stroke-width="0.8"/>
<circle cx="241.9" cy="664.3" r="2.4" fill="#5f8a26" stroke="#44661c" stroke-width="0.8"/>
<circle cx="248.5" cy="645" r="2.4" fill="#5f8a26" stroke="#44661c" stroke-width="0.8"/>
<circle cx="255.2" cy="652.9" r="2.4" fill="#5f8a26" stroke="#44661c" stroke-width="0.8"/>
<circle cx="261.8" cy="654" r="2.4" fill="#5f8a26" stroke="#44661c" stroke-width="0.8"/>
<circle cx="268.4" cy="654" r="2.4" fill="#5f8a26" stroke="#44661c" stroke-width="0.8"/>
<circle cx="275.1" cy="645.5" r="2.4" fill="#5f8a26" stroke="#44661c" stroke-width="0.8"/>
<circle cx="281.7" cy="630.2" r="2.4" fill="#5f8a26" stroke="#44661c" stroke-width="0.8"/>
<circle cx="288.4" cy="623.6" r="2.4" fill="#5f8a26" stroke="#44661c" stroke-width="0.8"/>
<circle cx="295" cy="611.1" r="2.4" fill="#5f8a26" stroke="#44661c" stroke-width="0.8"/>
<circle cx="301.7" cy="620.8" r="2.4" fill="#5f8a26" stroke="#44661c" stroke-width="0.8"/>
<circle cx="308.3" cy="612.5" r="2.4" fill="#5f8a26" stroke="#44661c" stroke-width="0.8"/>
<circle cx="315" cy="633.5" r="2.4" fill="#5f8a26" stroke="#44661c" stroke-width="0.8"/>
<circle cx="321.6" cy="635.6" r="2.4" fill="#5f8a26" stroke="#44661c" stroke-width="0.8"/>
<circle cx="328.3" cy="653.8" r="2.4" fill="#5f8a26" stroke="#44661c" stroke-width="0.8"/>
<circle cx="334.9" cy="662.6" r="2.4" fill="#5f8a26" stroke="#44661c" stroke-width="0.8"/>
<circle cx="341.6" cy="658.5" r="2.4" fill="#5f8a26" stroke="#44661c" stroke-width="0.8"/>
<circle cx="348.2" cy="634.9" r="2.4" fill="#5f8a26" stroke="#44661c" stroke-width="0.8"/>
<circle cx="354.9" cy="602.4" r="2.4" fill="#5f8a26" stroke="#44661c" stroke-width="0.8"/>
<circle cx="361.5" cy="578.8" r="2.4" fill="#5f8a26" stroke="#44661c" stroke-width="0.8"/>
<path d="M102.2 626.3 L108.9 617.3 L115.5 619 L122.2 641.8 L128.8 639 L135.5 634 L142.1 638.7 L148.8 645.8 L155.4 627.3 L162.1 621 L168.7 626.5 L175.4 632.4 L182 615.6 L188.7 660 L195.3 665.2 L202 670.4 L208.6 673 L215.3 662 L221.9 684.6 L228.6 700.8 L235.2 684.6 L241.9 663.8 L248.5 629.4 L255.2 626.5 L261.8 596.5 L268.4 583.3 L275.1 576.8 L281.7 594 L288.4 596.3 L295 584 L301.7 587.4 L308.3 600.8 L315 582.8 L321.6 543.1" fill="none" stroke="#7d7d7d" stroke-width="1.4" stroke-linejoin="round"/>
<circle cx="102.2" cy="626.3" r="2.4" fill="#7a7a7a" stroke="#5a5a5a" stroke-width="0.8"/>
<circle cx="108.9" cy="617.3" r="2.4" fill="#7a7a7a" stroke="#5a5a5a" stroke-width="0.8"/>
<circle cx="115.5" cy="619" r="2.4" fill="#7a7a7a" stroke="#5a5a5a" stroke-width="0.8"/>
<circle cx="122.2" cy="641.8" r="2.4" fill="#7a7a7a" stroke="#5a5a5a" stroke-width="0.8"/>
<circle cx="128.8" cy="639" r="2.4" fill="#7a7a7a" stroke="#5a5a5a" stroke-width="0.8"/>
<circle cx="135.5" cy="634" r="2.4" fill="#7a7a7a" stroke="#5a5a5a" stroke-width="0.8"/>
<circle cx="142.1" cy="638.7" r="2.4" fill="#7a7a7a" stroke="#5a5a5a" stroke-width="0.8"/>
<circle cx="148.8" cy="645.8" r="2.4" fill="#7a7a7a" stroke="#5a5a5a" stroke-width="0.8"/>
<circle cx="155.4" cy="627.3" r="2.4" fill="#7a7a7a" stroke="#5a5a5a" stroke-width="0.8"/>
<circle cx="162.1" cy="621" r="2.4" fill="#7a7a7a" stroke="#5a5a5a" stroke-width="0.8"/>
<circle cx="168.7" cy="626.5" r="2.4" fill="#7a7a7a" stroke="#5a5a5a" stroke-width="0.8"/>
<circle cx="175.4" cy="632.4" r="2.4" fill="#7a7a7a" stroke="#5a5a5a" stroke-width="0.8"/>
<circle cx="182" cy="615.6" r="2.4" fill="#7a7a7a" stroke="#5a5a5a" stroke-width="0.8"/>
<circle cx="188.7" cy="660" r="2.4" fill="#7a7a7a" stroke="#5a5a5a" stroke-width="0.8"/>
<circle cx="195.3" cy="665.2" r="2.4" fill="#7a7a7a" stroke="#5a5a5a" stroke-width="0.8"/>
<circle cx="202" cy="670.4" r="2.4" fill="#7a7a7a" stroke="#5a5a5a" stroke-width="0.8"/>
<circle cx="208.6" cy="673" r="2.4" fill="#7a7a7a" stroke="#5a5a5a" stroke-width="0.8"/>
<circle cx="215.3" cy="662" r="2.4" fill="#7a7a7a" stroke="#5a5a5a" stroke-width="0.8"/>
<circle cx="221.9" cy="684.6" r="2.4" fill="#7a7a7a" stroke="#5a5a5a" stroke-width="0.8"/>
<circle cx="228.6" cy="700.8" r="2.4" fill="#7a7a7a" stroke="#5a5a5a" stroke-width="0.8"/>
<circle cx="235.2" cy="684.6" r="2.4" fill="#7a7a7a" stroke="#5a5a5a" stroke-width="0.8"/>
<circle cx="241.9" cy="663.8" r="2.4" fill="#7a7a7a" stroke="#5a5a5a" stroke-width="0.8"/>
<circle cx="248.5" cy="629.4" r="2.4" fill="#7a7a7a" stroke="#5a5a5a" stroke-width="0.8"/>
<circle cx="255.2" cy="626.5" r="2.4" fill="#7a7a7a" stroke="#5a5a5a" stroke-width="0.8"/>
<circle cx="261.8" cy="596.5" r="2.4" fill="#7a7a7a" stroke="#5a5a5a" stroke-width="0.8"/>
<circle cx="268.4" cy="583.3" r="2.4" fill="#7a7a7a" stroke="#5a5a5a" stroke-width="0.8"/>
<circle cx="275.1" cy="576.8" r="2.4" fill="#7a7a7a" stroke="#5a5a5a" stroke-width="0.8"/>
<circle cx="281.7" cy="594" r="2.4" fill="#7a7a7a" stroke="#5a5a5a" stroke-width="0.8"/>
<circle cx="288.4" cy="596.3" r="2.4" fill="#7a7a7a" stroke="#5a5a5a" stroke-width="0.8"/>
<circle cx="295" cy="584" r="2.4" fill="#7a7a7a" stroke="#5a5a5a" stroke-width="0.8"/>
<circle cx="301.7" cy="587.4" r="2.4" fill="#7a7a7a" stroke="#5a5a5a" stroke-width="0.8"/>
<circle cx="308.3" cy="600.8" r="2.4" fill="#7a7a7a" stroke="#5a5a5a" stroke-width="0.8"/>
<circle cx="315" cy="582.8" r="2.4" fill="#7a7a7a" stroke="#5a5a5a" stroke-width="0.8"/>
<circle cx="321.6" cy="543.1" r="2.4" fill="#7a7a7a" stroke="#5a5a5a" stroke-width="0.8"/>
<path d="M102.2 496.7 L108.9 493.1 L115.5 501.2 L122.2 500.2 L128.8 524.2 L135.5 532.9 L142.1 549.6 L148.8 563.7 L155.4 553.5 L162.1 600.4 L168.7 626.5 L175.4 642.5 L182 658.3 L188.7 678.5 L195.3 687.4 L202 689.5 L208.6 681 L215.3 668.2 L221.9 668 L228.6 674.8 L235.2 668.1 L241.9 668.6 L248.5 674 L255.2 678.3 L261.8 682.9 L268.4 672.1 L275.1 658.7 L281.7 664.5 L288.4 675.8 L295 645.8 L301.7 630.8 L308.3 603.5 L315 600.8 L321.6 589.2 L328.3 590.4 L334.9 568.5 L341.6 561.5 L348.2 543.8 L354.9 543.8 L361.5 538 L368.2 529.7 L374.8 529.7 L381.5 532.2 L388.1 534.5 L394.8 500.5 L401.4 477.6 L408.1 488 L414.7 476.9 L421.4 461.9 L428 436.6" fill="none" stroke="#23236e" stroke-width="1.4" stroke-linejoin="round"/>
<circle cx="102.2" cy="496.7" r="2.4" fill="#1b1f86" stroke="#14146a" stroke-width="0.8"/>
<circle cx="108.9" cy="493.1" r="2.4" fill="#1b1f86" stroke="#14146a" stroke-width="0.8"/>
<circle cx="115.5" cy="501.2" r="2.4" fill="#1b1f86" stroke="#14146a" stroke-width="0.8"/>
<circle cx="122.2" cy="500.2" r="2.4" fill="#1b1f86" stroke="#14146a" stroke-width="0.8"/>
<circle cx="128.8" cy="524.2" r="2.4" fill="#1b1f86" stroke="#14146a" stroke-width="0.8"/>
<circle cx="135.5" cy="532.9" r="2.4" fill="#1b1f86" stroke="#14146a" stroke-width="0.8"/>
<circle cx="142.1" cy="549.6" r="2.4" fill="#1b1f86" stroke="#14146a" stroke-width="0.8"/>
<circle cx="148.8" cy="563.7" r="2.4" fill="#1b1f86" stroke="#14146a" stroke-width="0.8"/>
<circle cx="155.4" cy="553.5" r="2.4" fill="#1b1f86" stroke="#14146a" stroke-width="0.8"/>
<circle cx="162.1" cy="600.4" r="2.4" fill="#1b1f86" stroke="#14146a" stroke-width="0.8"/>
<circle cx="168.7" cy="626.5" r="2.4" fill="#1b1f86" stroke="#14146a" stroke-width="0.8"/>
<circle cx="175.4" cy="642.5" r="2.4" fill="#1b1f86" stroke="#14146a" stroke-width="0.8"/>
<circle cx="182" cy="658.3" r="2.4" fill="#1b1f86" stroke="#14146a" stroke-width="0.8"/>
<circle cx="188.7" cy="678.5" r="2.4" fill="#1b1f86" stroke="#14146a" stroke-width="0.8"/>
<circle cx="195.3" cy="687.4" r="2.4" fill="#1b1f86" stroke="#14146a" stroke-width="0.8"/>
<circle cx="202" cy="689.5" r="2.4" fill="#1b1f86" stroke="#14146a" stroke-width="0.8"/>
<circle cx="208.6" cy="681" r="2.4" fill="#1b1f86" stroke="#14146a" stroke-width="0.8"/>
<circle cx="215.3" cy="668.2" r="2.4" fill="#1b1f86" stroke="#14146a" stroke-width="0.8"/>
<circle cx="221.9" cy="668" r="2.4" fill="#1b1f86" stroke="#14146a" stroke-width="0.8"/>
<circle cx="228.6" cy="674.8" r="2.4" fill="#1b1f86" stroke="#14146a" stroke-width="0.8"/>
<circle cx="235.2" cy="668.1" r="2.4" fill="#1b1f86" stroke="#14146a" stroke-width="0.8"/>
<circle cx="241.9" cy="668.6" r="2.4" fill="#1b1f86" stroke="#14146a" stroke-width="0.8"/>
<circle cx="248.5" cy="674" r="2.4" fill="#1b1f86" stroke="#14146a" stroke-width="0.8"/>
<circle cx="255.2" cy="678.3" r="2.4" fill="#1b1f86" stroke="#14146a" stroke-width="0.8"/>
<circle cx="261.8" cy="682.9" r="2.4" fill="#1b1f86" stroke="#14146a" stroke-width="0.8"/>
<circle cx="268.4" cy="672.1" r="2.4" fill="#1b1f86" stroke="#14146a" stroke-width="0.8"/>
<circle cx="275.1" cy="658.7" r="2.4" fill="#1b1f86" stroke="#14146a" stroke-width="0.8"/>
<circle cx="281.7" cy="664.5" r="2.4" fill="#1b1f86" stroke="#14146a" stroke-width="0.8"/>
<circle cx="288.4" cy="675.8" r="2.4" fill="#1b1f86" stroke="#14146a" stroke-width="0.8"/>
<circle cx="295" cy="645.8" r="2.4" fill="#1b1f86" stroke="#14146a" stroke-width="0.8"/>
<circle cx="301.7" cy="630.8" r="2.4" fill="#1b1f86" stroke="#14146a" stroke-width="0.8"/>
<circle cx="308.3" cy="603.5" r="2.4" fill="#1b1f86" stroke="#14146a" stroke-width="0.8"/>
<circle cx="315" cy="600.8" r="2.4" fill="#1b1f86" stroke="#14146a" stroke-width="0.8"/>
<circle cx="321.6" cy="589.2" r="2.4" fill="#1b1f86" stroke="#14146a" stroke-width="0.8"/>
<circle cx="328.3" cy="590.4" r="2.4" fill="#1b1f86" stroke="#14146a" stroke-width="0.8"/>
<circle cx="334.9" cy="568.5" r="2.4" fill="#1b1f86" stroke="#14146a" stroke-width="0.8"/>
<circle cx="341.6" cy="561.5" r="2.4" fill="#1b1f86" stroke="#14146a" stroke-width="0.8"/>
<circle cx="348.2" cy="543.8" r="2.4" fill="#1b1f86" stroke="#14146a" stroke-width="0.8"/>
<circle cx="354.9" cy="543.8" r="2.4" fill="#1b1f86" stroke="#14146a" stroke-width="0.8"/>
<circle cx="361.5" cy="538" r="2.4" fill="#1b1f86" stroke="#14146a" stroke-width="0.8"/>
<circle cx="368.2" cy="529.7" r="2.4" fill="#1b1f86" stroke="#14146a" stroke-width="0.8"/>
<circle cx="374.8" cy="529.7" r="2.4" fill="#1b1f86" stroke="#14146a" stroke-width="0.8"/>
<circle cx="381.5" cy="532.2" r="2.4" fill="#1b1f86" stroke="#14146a" stroke-width="0.8"/>
<circle cx="388.1" cy="534.5" r="2.4" fill="#1b1f86" stroke="#14146a" stroke-width="0.8"/>
<circle cx="394.8" cy="500.5" r="2.4" fill="#1b1f86" stroke="#14146a" stroke-width="0.8"/>
<circle cx="401.4" cy="477.6" r="2.4" fill="#1b1f86" stroke="#14146a" stroke-width="0.8"/>
<circle cx="408.1" cy="488" r="2.4" fill="#1b1f86" stroke="#14146a" stroke-width="0.8"/>
<circle cx="414.7" cy="476.9" r="2.4" fill="#1b1f86" stroke="#14146a" stroke-width="0.8"/>
<circle cx="421.4" cy="461.9" r="2.4" fill="#1b1f86" stroke="#14146a" stroke-width="0.8"/>
</g>
<g fill="#000" stroke="#000" stroke-width="0.35">
<line x1="101" y1="823.6" x2="101" y2="1100.3" stroke="#000" stroke-width="3.4"/>
<line x1="91.5" y1="1091.8" x2="501.8" y2="1091.8" stroke="#000" stroke-width="3.4"/>
<line x1="91.5" y1="1091.8" x2="101" y2="1091.8" stroke="#000" stroke-width="3.4"/>
<text x="89" y="1098.7" text-anchor="end" font-size="19" font-weight="bold">0</text>
<line x1="91.5" y1="1038.5" x2="101" y2="1038.5" stroke="#000" stroke-width="3.4"/>
<text x="89" y="1045.4" text-anchor="end" font-size="19" font-weight="bold">10</text>
<line x1="91.5" y1="985.2" x2="101" y2="985.2" stroke="#000" stroke-width="3.4"/>
<text x="89" y="992.1" text-anchor="end" font-size="19" font-weight="bold">20</text>
<line x1="91.5" y1="931.8" x2="101" y2="931.8" stroke="#000" stroke-width="3.4"/>
<text x="89" y="938.7" text-anchor="end" font-size="19" font-weight="bold">30</text>
<line x1="91.5" y1="878.5" x2="101" y2="878.5" stroke="#000" stroke-width="3.4"/>
<text x="89" y="885.4" text-anchor="end" font-size="19" font-weight="bold">40</text>
<line x1="91.5" y1="825.2" x2="101" y2="825.2" stroke="#000" stroke-width="3.4"/>
<text x="89" y="832.1" text-anchor="end" font-size="19" font-weight="bold">50</text>
<line x1="101" y1="1091.8" x2="101" y2="1101.3" stroke="#000" stroke-width="3.4"/>
<text x="101" y="1122.8" text-anchor="middle" font-size="19" font-weight="bold">0</text>
<line x1="234.1" y1="1091.8" x2="234.1" y2="1101.3" stroke="#000" stroke-width="3.4"/>
<text x="234.1" y="1122.8" text-anchor="middle" font-size="19" font-weight="bold">20</text>
<line x1="367.1" y1="1091.8" x2="367.1" y2="1101.3" stroke="#000" stroke-width="3.4"/>
<text x="367.1" y="1122.8" text-anchor="middle" font-size="19" font-weight="bold">40</text>
<line x1="500.2" y1="1091.8" x2="500.2" y2="1101.3" stroke="#000" stroke-width="3.4"/>
<text x="500.2" y="1122.8" text-anchor="middle" font-size="19" font-weight="bold">60</text>
<text x="300.5" y="1154.6" text-anchor="middle" font-size="21.6" font-weight="bold">Time (min)</text>
<text transform="translate(38.3 976.6) rotate(-90)" text-anchor="middle" font-size="21.6" font-weight="bold">DC - T cell distance (<tspan font-family="Liberation Serif" font-weight="normal" stroke="none" font-size="23.6">&#956;</tspan>M)</text>
</g>
<g clip-path="url(#cc)">
<path d="M107.7 1070.5 L114.3 1038.8 L121 1054.3 L127.6 1041.8 L134.3 1048.9 L140.9 1051.6 L147.6 1043.1 L154.2 1052.3 L160.9 1068.5 L167.5 1065.8 L174.2 1073.1 L180.8 1077.7 L187.5 1078.8 L194.1 1081.2 L200.8 1076.2 L207.4 1083.1 L214.1 1086 L220.8 1087.6 L227.4 1091.7 L234.1 1091.7" fill="none" stroke="#9a9660" stroke-width="1.4" stroke-linejoin="round"/>
<circle cx="107.7" cy="1070.5" r="2.4" fill="#b0aa3a" stroke="#8a8626" stroke-width="0.8"/>
<circle cx="114.3" cy="1038.8" r="2.4" fill="#b0aa3a" stroke="#8a8626" stroke-width="0.8"/>
<circle cx="121" cy="1054.3" r="2.4" fill="#b0aa3a" stroke="#8a8626" stroke-width="0.8"/>
<circle cx="127.6" cy="1041.8" r="2.4" fill="#b0aa3a" stroke="#8a8626" stroke-width="0.8"/>
<circle cx="134.3" cy="1048.9" r="2.4" fill="#b0aa3a" stroke="#8a8626" stroke-width="0.8"/>
<circle cx="140.9" cy="1051.6" r="2.4" fill="#b0aa3a" stroke="#8a8626" stroke-width="0.8"/>
<circle cx="147.6" cy="1043.1" r="2.4" fill="#b0aa3a" stroke="#8a8626" stroke-width="0.8"/>
<circle cx="154.2" cy="1052.3" r="2.4" fill="#b0aa3a" stroke="#8a8626" stroke-width="0.8"/>
<circle cx="160.9" cy="1068.5" r="2.4" fill="#b0aa3a" stroke="#8a8626" stroke-width="0.8"/>
<circle cx="167.5" cy="1065.8" r="2.4" fill="#b0aa3a" stroke="#8a8626" stroke-width="0.8"/>
<circle cx="174.2" cy="1073.1" r="2.4" fill="#b0aa3a" stroke="#8a8626" stroke-width="0.8"/>
<circle cx="180.8" cy="1077.7" r="2.4" fill="#b0aa3a" stroke="#8a8626" stroke-width="0.8"/>
<circle cx="187.5" cy="1078.8" r="2.4" fill="#b0aa3a" stroke="#8a8626" stroke-width="0.8"/>
<circle cx="194.1" cy="1081.2" r="2.4" fill="#b0aa3a" stroke="#8a8626" stroke-width="0.8"/>
<circle cx="200.8" cy="1076.2" r="2.4" fill="#b0aa3a" stroke="#8a8626" stroke-width="0.8"/>
<circle cx="207.4" cy="1083.1" r="2.4" fill="#b0aa3a" stroke="#8a8626" stroke-width="0.8"/>
<circle cx="214.1" cy="1086" r="2.4" fill="#b0aa3a" stroke="#8a8626" stroke-width="0.8"/>
<circle cx="220.8" cy="1087.6" r="2.4" fill="#b0aa3a" stroke="#8a8626" stroke-width="0.8"/>
<circle cx="227.4" cy="1091.7" r="2.4" fill="#b0aa3a" stroke="#8a8626" stroke-width="0.8"/>
<circle cx="234.1" cy="1091.7" r="2.4" fill="#b0aa3a" stroke="#8a8626" stroke-width="0.8"/>
<path d="M107.7 1037.8 L114.3 1033.9 L121 1035.7 L127.6 1051 L134.3 1044.9 L140.9 1056.6 L147.6 1058 L154.2 1049.3 L160.9 1072.5 L167.5 1052.5 L174.2 1041.5 L180.8 1038.7 L187.5 1026.5 L194.1 1042.8 L200.8 1040 L207.4 1031.5 L214.1 1019 L220.8 1021.5 L227.4 1042.6 L234.1 1049.9 L240.7 1061.9 L247.4 1072 L254 1083.2 L260.7 1084.5 L267.3 1084.1 L274 1083.7 L280.6 1087.9 L287.3 1091.8 L293.9 1091.8" fill="none" stroke="#20206a" stroke-width="1.4" stroke-linejoin="round"/>
<circle cx="107.7" cy="1037.8" r="2.4" fill="#1c1c8c" stroke="#12126a" stroke-width="0.8"/>
<circle cx="114.3" cy="1033.9" r="2.4" fill="#1c1c8c" stroke="#12126a" stroke-width="0.8"/>
<circle cx="121" cy="1035.7" r="2.4" fill="#1c1c8c" stroke="#12126a" stroke-width="0.8"/>
<circle cx="127.6" cy="1051" r="2.4" fill="#1c1c8c" stroke="#12126a" stroke-width="0.8"/>
<circle cx="134.3" cy="1044.9" r="2.4" fill="#1c1c8c" stroke="#12126a" stroke-width="0.8"/>
<circle cx="140.9" cy="1056.6" r="2.4" fill="#1c1c8c" stroke="#12126a" stroke-width="0.8"/>
<circle cx="147.6" cy="1058" r="2.4" fill="#1c1c8c" stroke="#12126a" stroke-width="0.8"/>
<circle cx="154.2" cy="1049.3" r="2.4" fill="#1c1c8c" stroke="#12126a" stroke-width="0.8"/>
<circle cx="160.9" cy="1072.5" r="2.4" fill="#1c1c8c" stroke="#12126a" stroke-width="0.8"/>
<circle cx="167.5" cy="1052.5" r="2.4" fill="#1c1c8c" stroke="#12126a" stroke-width="0.8"/>
<circle cx="174.2" cy="1041.5" r="2.4" fill="#1c1c8c" stroke="#12126a" stroke-width="0.8"/>
<circle cx="180.8" cy="1038.7" r="2.4" fill="#1c1c8c" stroke="#12126a" stroke-width="0.8"/>
<circle cx="187.5" cy="1026.5" r="2.4" fill="#1c1c8c" stroke="#12126a" stroke-width="0.8"/>
<circle cx="194.1" cy="1042.8" r="2.4" fill="#1c1c8c" stroke="#12126a" stroke-width="0.8"/>
<circle cx="200.8" cy="1040" r="2.4" fill="#1c1c8c" stroke="#12126a" stroke-width="0.8"/>
<circle cx="207.4" cy="1031.5" r="2.4" fill="#1c1c8c" stroke="#12126a" stroke-width="0.8"/>
<circle cx="214.1" cy="1019" r="2.4" fill="#1c1c8c" stroke="#12126a" stroke-width="0.8"/>
<circle cx="220.8" cy="1021.5" r="2.4" fill="#1c1c8c" stroke="#12126a" stroke-width="0.8"/>
<circle cx="227.4" cy="1042.6" r="2.4" fill="#1c1c8c" stroke="#12126a" stroke-width="0.8"/>
<circle cx="234.1" cy="1049.9" r="2.4" fill="#1c1c8c" stroke="#12126a" stroke-width="0.8"/>
<circle cx="240.7" cy="1061.9" r="2.4" fill="#1c1c8c" stroke="#12126a" stroke-width="0.8"/>
<circle cx="247.4" cy="1072" r="2.4" fill="#1c1c8c" stroke="#12126a" stroke-width="0.8"/>
<circle cx="254" cy="1083.2" r="2.4" fill="#1c1c8c" stroke="#12126a" stroke-width="0.8"/>
<circle cx="260.7" cy="1084.5" r="2.4" fill="#1c1c8c" stroke="#12126a" stroke-width="0.8"/>
<circle cx="267.3" cy="1084.1" r="2.4" fill="#1c1c8c" stroke="#12126a" stroke-width="0.8"/>
<circle cx="274" cy="1083.7" r="2.4" fill="#1c1c8c" stroke="#12126a" stroke-width="0.8"/>
<circle cx="280.6" cy="1087.9" r="2.4" fill="#1c1c8c" stroke="#12126a" stroke-width="0.8"/>
<circle cx="287.3" cy="1091.8" r="2.4" fill="#1c1c8c" stroke="#12126a" stroke-width="0.8"/>
<circle cx="293.9" cy="1091.8" r="2.4" fill="#1c1c8c" stroke="#12126a" stroke-width="0.8"/>
<path d="M107.7 902.5 L114.3 920.8 L121 935.1 L127.6 920.8 L134.3 918.8 L140.9 926.9 L147.6 932.3 L154.2 941 L160.9 944.2 L167.5 970.7 L174.2 966.9 L180.8 968 L187.5 971.3 L194.1 978.3 L200.8 997 L207.4 1018.2 L214.1 1044.6 L220.8 1068.8 L227.4 1077 L234.1 1084.1 L240.7 1091.5" fill="none" stroke="#6a2a2a" stroke-width="1.4" stroke-linejoin="round"/>
<circle cx="107.7" cy="902.5" r="2.4" fill="#8a2424" stroke="#6a1818" stroke-width="0.8"/>
<circle cx="114.3" cy="920.8" r="2.4" fill="#8a2424" stroke="#6a1818" stroke-width="0.8"/>
<circle cx="121" cy="935.1" r="2.4" fill="#8a2424" stroke="#6a1818" stroke-width="0.8"/>
<circle cx="127.6" cy="920.8" r="2.4" fill="#8a2424" stroke="#6a1818" stroke-width="0.8"/>
<circle cx="134.3" cy="918.8" r="2.4" fill="#8a2424" stroke="#6a1818" stroke-width="0.8"/>
<circle cx="140.9" cy="926.9" r="2.4" fill="#8a2424" stroke="#6a1818" stroke-width="0.8"/>
<circle cx="147.6" cy="932.3" r="2.4" fill="#8a2424" stroke="#6a1818" stroke-width="0.8"/>
<circle cx="154.2" cy="941" r="2.4" fill="#8a2424" stroke="#6a1818" stroke-width="0.8"/>
<circle cx="160.9" cy="944.2" r="2.4" fill="#8a2424" stroke="#6a1818" stroke-width="0.8"/>
<circle cx="167.5" cy="970.7" r="2.4" fill="#8a2424" stroke="#6a1818" stroke-width="0.8"/>
<circle cx="174.2" cy="966.9" r="2.4" fill="#8a2424" stroke="#6a1818" stroke-width="0.8"/>
<circle cx="180.8" cy="968" r="2.4" fill="#8a2424" stroke="#6a1818" stroke-width="0.8"/>
<circle cx="187.5" cy="971.3" r="2.4" fill="#8a2424" stroke="#6a1818" stroke-width="0.8"/>
<circle cx="194.1" cy="978.3" r="2.4" fill="#8a2424" stroke="#6a1818" stroke-width="0.8"/>
<circle cx="200.8" cy="997" r="2.4" fill="#8a2424" stroke="#6a1818" stroke-width="0.8"/>
<circle cx="207.4" cy="1018.2" r="2.4" fill="#8a2424" stroke="#6a1818" stroke-width="0.8"/>
<circle cx="214.1" cy="1044.6" r="2.4" fill="#8a2424" stroke="#6a1818" stroke-width="0.8"/>
<circle cx="220.8" cy="1068.8" r="2.4" fill="#8a2424" stroke="#6a1818" stroke-width="0.8"/>
<circle cx="227.4" cy="1077" r="2.4" fill="#8a2424" stroke="#6a1818" stroke-width="0.8"/>
<circle cx="234.1" cy="1084.1" r="2.4" fill="#8a2424" stroke="#6a1818" stroke-width="0.8"/>
<circle cx="240.7" cy="1091.5" r="2.4" fill="#8a2424" stroke="#6a1818" stroke-width="0.8"/>
<path d="M107.7 923.8 L114.3 941.8 L121 959.2 L127.6 961.5 L134.3 950.5 L140.9 960.7 L147.6 983.9 L154.2 983.9 L160.9 976.2 L167.5 998.1 L174.2 987.7 L180.8 992.9 L187.5 983.8 L194.1 1000.8 L200.8 996.6 L207.4 988.2 L214.1 986.9 L220.8 983.4 L227.4 997.2 L234.1 989 L240.7 995.5 L247.4 987.1 L254 988.8 L260.7 985.4 L267.3 1003 L274 1007.2 L280.6 982.9 L287.3 978.2 L293.9 975.5 L300.6 976.5 L307.2 969.1 L313.9 978.2 L320.5 977.2 L327.2 962.3 L333.9 942.2 L340.5 928.8 L347.2 926.5 L353.8 935.1 L360.5 954.2 L367.1 973.4 L373.8 990 L380.4 1001.5 L387.1 1012.8 L393.7 1019 L400.4 1026 L407 1037.9 L413.7 1056.2 L420.3 1074.6 L427 1083.3 L433.6 1091.9 L440.3 1091.9 L447 1091.9 L453.6 1091.9" fill="none" stroke="#6e8a50" stroke-width="1.4" stroke-linejoin="round"/>
<circle cx="107.7" cy="923.8" r="2.4" fill="#679a2c" stroke="#4c7420" stroke-width="0.8"/>
<circle cx="114.3" cy="941.8" r="2.4" fill="#679a2c" stroke="#4c7420" stroke-width="0.8"/>
<circle cx="121" cy="959.2" r="2.4" fill="#679a2c" stroke="#4c7420" stroke-width="0.8"/>
<circle cx="127.6" cy="961.5" r="2.4" fill="#679a2c" stroke="#4c7420" stroke-width="0.8"/>
<circle cx="134.3" cy="950.5" r="2.4" fill="#679a2c" stroke="#4c7420" stroke-width="0.8"/>
<circle cx="140.9" cy="960.7" r="2.4" fill="#679a2c" stroke="#4c7420" stroke-width="0.8"/>
<circle cx="147.6" cy="983.9" r="2.4" fill="#679a2c" stroke="#4c7420" stroke-width="0.8"/>
<circle cx="154.2" cy="983.9" r="2.4" fill="#679a2c" stroke="#4c7420" stroke-width="0.8"/>
<circle cx="160.9" cy="976.2" r="2.4" fill="#679a2c" stroke="#4c7420" stroke-width="0.8"/>
<circle cx="167.5" cy="998.1" r="2.4" fill="#679a2c" stroke="#4c7420" stroke-width="0.8"/>
<circle cx="174.2" cy="987.7" r="2.4" fill="#679a2c" stroke="#4c7420" stroke-width="0.8"/>
<circle cx="180.8" cy="992.9" r="2.4" fill="#679a2c" stroke="#4c7420" stroke-width="0.8"/>
<circle cx="187.5" cy="983.8" r="2.4" fill="#679a2c" stroke="#4c7420" stroke-width="0.8"/>
<circle cx="194.1" cy="1000.8" r="2.4" fill="#679a2c" stroke="#4c7420" stroke-width="0.8"/>
<circle cx="200.8" cy="996.6" r="2.4" fill="#679a2c" stroke="#4c7420" stroke-width="0.8"/>
<circle cx="207.4" cy="988.2" r="2.4" fill="#679a2c" stroke="#4c7420" stroke-width="0.8"/>
<circle cx="214.1" cy="986.9" r="2.4" fill="#679a2c" stroke="#4c7420" stroke-width="0.8"/>
<circle cx="220.8" cy="983.4" r="2.4" fill="#679a2c" stroke="#4c7420" stroke-width="0.8"/>
<circle cx="227.4" cy="997.2" r="2.4" fill="#679a2c" stroke="#4c7420" stroke-width="0.8"/>
<circle cx="234.1" cy="989" r="2.4" fill="#679a2c" stroke="#4c7420" stroke-width="0.8"/>
<circle cx="240.7" cy="995.5" r="2.4" fill="#679a2c" stroke="#4c7420" stroke-width="0.8"/>
<circle cx="247.4" cy="987.1" r="2.4" fill="#679a2c" stroke="#4c7420" stroke-width="0.8"/>
<circle cx="254" cy="988.8" r="2.4" fill="#679a2c" stroke="#4c7420" stroke-width="0.8"/>
<circle cx="260.7" cy="985.4" r="2.4" fill="#679a2c" stroke="#4c7420" stroke-width="0.8"/>
<circle cx="267.3" cy="1003" r="2.4" fill="#679a2c" stroke="#4c7420" stroke-width="0.8"/>
<circle cx="274" cy="1007.2" r="2.4" fill="#679a2c" stroke="#4c7420" stroke-width="0.8"/>
<circle cx="280.6" cy="982.9" r="2.4" fill="#679a2c" stroke="#4c7420" stroke-width="0.8"/>
<circle cx="287.3" cy="978.2" r="2.4" fill="#679a2c" stroke="#4c7420" stroke-width="0.8"/>
<circle cx="293.9" cy="975.5" r="2.4" fill="#679a2c" stroke="#4c7420" stroke-width="0.8"/>
<circle cx="300.6" cy="976.5" r="2.4" fill="#679a2c" stroke="#4c7420" stroke-width="0.8"/>
<circle cx="307.2" cy="969.1" r="2.4" fill="#679a2c" stroke="#4c7420" stroke-width="0.8"/>
<circle cx="313.9" cy="978.2" r="2.4" fill="#679a2c" stroke="#4c7420" stroke-width="0.8"/>
<circle cx="320.5" cy="977.2" r="2.4" fill="#679a2c" stroke="#4c7420" stroke-width="0.8"/>
<circle cx="327.2" cy="962.3" r="2.4" fill="#679a2c" stroke="#4c7420" stroke-width="0.8"/>
<circle cx="333.9" cy="942.2" r="2.4" fill="#679a2c" stroke="#4c7420" stroke-width="0.8"/>
<circle cx="340.5" cy="928.8" r="2.4" fill="#679a2c" stroke="#4c7420" stroke-width="0.8"/>
<circle cx="347.2" cy="926.5" r="2.4" fill="#679a2c" stroke="#4c7420" stroke-width="0.8"/>
<circle cx="353.8" cy="935.1" r="2.4" fill="#679a2c" stroke="#4c7420" stroke-width="0.8"/>
<circle cx="360.5" cy="954.2" r="2.4" fill="#679a2c" stroke="#4c7420" stroke-width="0.8"/>
<circle cx="367.1" cy="973.4" r="2.4" fill="#679a2c" stroke="#4c7420" stroke-width="0.8"/>
<circle cx="373.8" cy="990" r="2.4" fill="#679a2c" stroke="#4c7420" stroke-width="0.8"/>
<circle cx="380.4" cy="1001.5" r="2.4" fill="#679a2c" stroke="#4c7420" stroke-width="0.8"/>
<circle cx="387.1" cy="1012.8" r="2.4" fill="#679a2c" stroke="#4c7420" stroke-width="0.8"/>
<circle cx="393.7" cy="1019" r="2.4" fill="#679a2c" stroke="#4c7420" stroke-width="0.8"/>
<circle cx="400.4" cy="1026" r="2.4" fill="#679a2c" stroke="#4c7420" stroke-width="0.8"/>
<circle cx="407" cy="1037.9" r="2.4" fill="#679a2c" stroke="#4c7420" stroke-width="0.8"/>
<circle cx="413.7" cy="1056.2" r="2.4" fill="#679a2c" stroke="#4c7420" stroke-width="0.8"/>
<circle cx="420.3" cy="1074.6" r="2.4" fill="#679a2c" stroke="#4c7420" stroke-width="0.8"/>
<circle cx="427" cy="1083.3" r="2.4" fill="#679a2c" stroke="#4c7420" stroke-width="0.8"/>
<circle cx="433.6" cy="1091.9" r="2.4" fill="#679a2c" stroke="#4c7420" stroke-width="0.8"/>
<circle cx="440.3" cy="1091.9" r="2.4" fill="#679a2c" stroke="#4c7420" stroke-width="0.8"/>
<circle cx="447" cy="1091.9" r="2.4" fill="#679a2c" stroke="#4c7420" stroke-width="0.8"/>
<circle cx="453.6" cy="1091.9" r="2.4" fill="#679a2c" stroke="#4c7420" stroke-width="0.8"/>
<path d="M107.7 959.4 L114.3 973.5 L121 968 L127.6 972.6 L134.3 989.4 L140.9 955.7 L147.6 943.5 L154.2 914.5 L160.9 907 L167.5 915.7 L174.2 903.4 L180.8 913.2 L187.5 923.5 L194.1 953.1 L200.8 944.6 L207.4 933.4 L214.1 950.5 L220.8 950.5 L227.4 953.1 L234.1 963 L240.7 955 L247.4 943.1 L254 969.1 L260.7 980.8 L267.3 993 L274 992.4 L280.6 1025.3 L287.3 1018.6 L293.9 1010.3 L300.6 1021.1 L307.2 1045.8 L313.9 1047.1 L320.5 1073.5 L327.2 1088 L333.9 1091.9 L340.5 1091.9" fill="none" stroke="#3a40a8" stroke-width="1.4" stroke-linejoin="round"/>
<circle cx="107.7" cy="959.4" r="2.4" fill="#2f3cf0" stroke="#2428c0" stroke-width="0.8"/>
<circle cx="114.3" cy="973.5" r="2.4" fill="#2f3cf0" stroke="#2428c0" stroke-width="0.8"/>
<circle cx="121" cy="968" r="2.4" fill="#2f3cf0" stroke="#2428c0" stroke-width="0.8"/>
<circle cx="127.6" cy="972.6" r="2.4" fill="#2f3cf0" stroke="#2428c0" stroke-width="0.8"/>
<circle cx="134.3" cy="989.4" r="2.4" fill="#2f3cf0" stroke="#2428c0" stroke-width="0.8"/>
<circle cx="140.9" cy="955.7" r="2.4" fill="#2f3cf0" stroke="#2428c0" stroke-width="0.8"/>
<circle cx="147.6" cy="943.5" r="2.4" fill="#2f3cf0" stroke="#2428c0" stroke-width="0.8"/>
<circle cx="154.2" cy="914.5" r="2.4" fill="#2f3cf0" stroke="#2428c0" stroke-width="0.8"/>
<circle cx="160.9" cy="907" r="2.4" fill="#2f3cf0" stroke="#2428c0" stroke-width="0.8"/>
<circle cx="167.5" cy="915.7" r="2.4" fill="#2f3cf0" stroke="#2428c0" stroke-width="0.8"/>
<circle cx="174.2" cy="903.4" r="2.4" fill="#2f3cf0" stroke="#2428c0" stroke-width="0.8"/>
<circle cx="180.8" cy="913.2" r="2.4" fill="#2f3cf0" stroke="#2428c0" stroke-width="0.8"/>
<circle cx="187.5" cy="923.5" r="2.4" fill="#2f3cf0" stroke="#2428c0" stroke-width="0.8"/>
<circle cx="194.1" cy="953.1" r="2.4" fill="#2f3cf0" stroke="#2428c0" stroke-width="0.8"/>
<circle cx="200.8" cy="944.6" r="2.4" fill="#2f3cf0" stroke="#2428c0" stroke-width="0.8"/>
<circle cx="207.4" cy="933.4" r="2.4" fill="#2f3cf0" stroke="#2428c0" stroke-width="0.8"/>
<circle cx="214.1" cy="950.5" r="2.4" fill="#2f3cf0" stroke="#2428c0" stroke-width="0.8"/>
<circle cx="220.8" cy="950.5" r="2.4" fill="#2f3cf0" stroke="#2428c0" stroke-width="0.8"/>
<circle cx="227.4" cy="953.1" r="2.4" fill="#2f3cf0" stroke="#2428c0" stroke-width="0.8"/>
<circle cx="234.1" cy="963" r="2.4" fill="#2f3cf0" stroke="#2428c0" stroke-width="0.8"/>
<circle cx="240.7" cy="955" r="2.4" fill="#2f3cf0" stroke="#2428c0" stroke-width="0.8"/>
<circle cx="247.4" cy="943.1" r="2.4" fill="#2f3cf0" stroke="#2428c0" stroke-width="0.8"/>
<circle cx="254" cy="969.1" r="2.4" fill="#2f3cf0" stroke="#2428c0" stroke-width="0.8"/>
<circle cx="260.7" cy="980.8" r="2.4" fill="#2f3cf0" stroke="#2428c0" stroke-width="0.8"/>
<circle cx="267.3" cy="993" r="2.4" fill="#2f3cf0" stroke="#2428c0" stroke-width="0.8"/>
<circle cx="274" cy="992.4" r="2.4" fill="#2f3cf0" stroke="#2428c0" stroke-width="0.8"/>
<circle cx="280.6" cy="1025.3" r="2.4" fill="#2f3cf0" stroke="#2428c0" stroke-width="0.8"/>
<circle cx="287.3" cy="1018.6" r="2.4" fill="#2f3cf0" stroke="#2428c0" stroke-width="0.8"/>
<circle cx="293.9" cy="1010.3" r="2.4" fill="#2f3cf0" stroke="#2428c0" stroke-width="0.8"/>
<circle cx="300.6" cy="1021.1" r="2.4" fill="#2f3cf0" stroke="#2428c0" stroke-width="0.8"/>
<circle cx="307.2" cy="1045.8" r="2.4" fill="#2f3cf0" stroke="#2428c0" stroke-width="0.8"/>
<circle cx="313.9" cy="1047.1" r="2.4" fill="#2f3cf0" stroke="#2428c0" stroke-width="0.8"/>
<circle cx="320.5" cy="1073.5" r="2.4" fill="#2f3cf0" stroke="#2428c0" stroke-width="0.8"/>
<circle cx="327.2" cy="1088" r="2.4" fill="#2f3cf0" stroke="#2428c0" stroke-width="0.8"/>
<circle cx="333.9" cy="1091.9" r="2.4" fill="#2f3cf0" stroke="#2428c0" stroke-width="0.8"/>
<circle cx="340.5" cy="1091.9" r="2.4" fill="#2f3cf0" stroke="#2428c0" stroke-width="0.8"/>
<path d="M107.7 839.8 L114.3 862.9 L121 867.3 L127.6 851 L134.3 874.4 L140.9 885.6 L147.6 888.1 L154.2 886.2 L160.9 876 L167.5 884.6 L174.2 940.8 L180.8 982.8 L187.5 1008.5 L194.1 1035.4 L200.8 1056.9 L207.4 1056.4 L214.1 1060.3 L220.8 1056.6 L227.4 1077.2 L234.1 1079.5 L240.7 1085.6 L247.4 1091.5 L254 1091.5 L260.7 1091.5" fill="none" stroke="#1a1a1a" stroke-width="1.4" stroke-linejoin="round"/>
<circle cx="107.7" cy="839.8" r="3.7" fill="#000000" stroke="#000000" stroke-width="0.8"/>
<circle cx="114.3" cy="862.9" r="3.7" fill="#000000" stroke="#000000" stroke-width="0.8"/>
<circle cx="121" cy="867.3" r="3.7" fill="#000000" stroke="#000000" stroke-width="0.8"/>
<circle cx="127.6" cy="851" r="3.7" fill="#000000" stroke="#000000" stroke-width="0.8"/>
<circle cx="134.3" cy="874.4" r="3.7" fill="#000000" stroke="#000000" stroke-width="0.8"/>
<circle cx="140.9" cy="885.6" r="3.7" fill="#000000" stroke="#000000" stroke-width="0.8"/>
<circle cx="147.6" cy="888.1" r="3.7" fill="#000000" stroke="#000000" stroke-width="0.8"/>
<circle cx="154.2" cy="886.2" r="3.7" fill="#000000" stroke="#000000" stroke-width="0.8"/>
<circle cx="160.9" cy="876" r="3.7" fill="#000000" stroke="#000000" stroke-width="0.8"/>
<circle cx="167.5" cy="884.6" r="3.7" fill="#000000" stroke="#000000" stroke-width="0.8"/>
<circle cx="174.2" cy="940.8" r="3.7" fill="#000000" stroke="#000000" stroke-width="0.8"/>
<circle cx="180.8" cy="982.8" r="3.7" fill="#000000" stroke="#000000" stroke-width="0.8"/>
<circle cx="187.5" cy="1008.5" r="3.7" fill="#000000" stroke="#000000" stroke-width="0.8"/>
<circle cx="194.1" cy="1035.4" r="3.7" fill="#000000" stroke="#000000" stroke-width="0.8"/>
<circle cx="200.8" cy="1056.9" r="3.7" fill="#000000" stroke="#000000" stroke-width="0.8"/>
<circle cx="207.4" cy="1056.4" r="3.7" fill="#000000" stroke="#000000" stroke-width="0.8"/>
<circle cx="214.1" cy="1060.3" r="3.7" fill="#000000" stroke="#000000" stroke-width="0.8"/>
<circle cx="220.8" cy="1056.6" r="3.7" fill="#000000" stroke="#000000" stroke-width="0.8"/>
<circle cx="227.4" cy="1077.2" r="3.7" fill="#000000" stroke="#000000" stroke-width="0.8"/>
<circle cx="234.1" cy="1079.5" r="3.7" fill="#000000" stroke="#000000" stroke-width="0.8"/>
<circle cx="240.7" cy="1085.6" r="3.7" fill="#000000" stroke="#000000" stroke-width="0.8"/>
<circle cx="247.4" cy="1091.5" r="3.7" fill="#000000" stroke="#000000" stroke-width="0.8"/>
<circle cx="254" cy="1091.5" r="3.7" fill="#000000" stroke="#000000" stroke-width="0.8"/>
<circle cx="260.7" cy="1091.5" r="3.7" fill="#000000" stroke="#000000" stroke-width="0.8"/>
</g>
</svg></body></html>
